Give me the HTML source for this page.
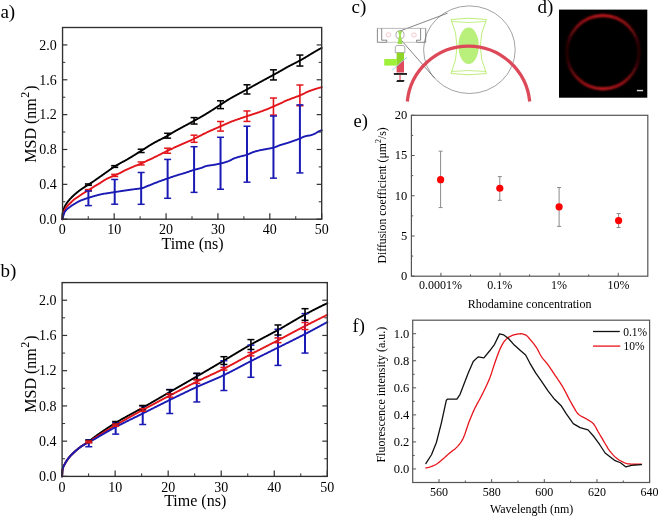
<!DOCTYPE html>
<html><head><meta charset="utf-8"><style>
html,body{margin:0;padding:0;background:#fff;}
svg{display:block;will-change:transform;}
text{font-family:"Liberation Serif", serif;}
</style></head><body>
<svg width="658" height="516" viewBox="0 0 658 516">
<rect width="658" height="516" fill="#fff"/>
<g font-family="'Liberation Serif', serif">
<polyline points="62.3,219.2 62.56,214.33 62.82,212.64 63.08,211.4 63.35,210.38 63.61,209.49 63.87,208.71 64.13,207.95 64.39,207.24 64.65,206.63 64.92,206.09 65.18,205.61 65.44,205.17 65.7,204.75 65.96,204.33 66.22,203.92 66.49,203.51 66.75,203.12 67.01,202.75 67.27,202.38 67.53,202.03 67.79,201.69 68.05,201.35 68.32,201.03 68.58,200.71 68.84,200.4 69.1,200.09 69.36,199.79 69.62,199.5 69.89,199.2 70.15,198.91 70.41,198.62 70.67,198.34 70.93,198.06 71.19,197.79 71.46,197.52 71.72,197.26 71.98,197 72.24,196.74 72.5,196.49 72.76,196.24 73.02,195.99 73.29,195.75 73.55,195.51 73.81,195.27 74.07,195.03 74.33,194.8 74.59,194.56 74.86,194.33 75.12,194.1 75.38,193.87 75.64,193.65 75.9,193.42 76.16,193.2 76.43,192.98 76.69,192.76 76.95,192.54 77.21,192.32 77.47,192.11 77.73,191.9 77.99,191.69 78.26,191.48 78.52,191.28 78.78,191.07 79.04,190.87 79.3,190.67 79.56,190.48 79.83,190.28 80.09,190.09 80.35,189.9 80.61,189.71 80.87,189.53 81.13,189.35 81.4,189.17 81.66,188.99 81.92,188.81 82.18,188.64 82.44,188.47 82.7,188.3 82.96,188.13 83.23,187.96 83.49,187.79 83.75,187.62 84.01,187.46 84.27,187.29 84.53,187.12 84.8,186.96 85.06,186.79 85.32,186.62 85.58,186.45 85.84,186.28 86.1,186.11 86.37,185.94 86.63,185.77 86.89,185.6 87.15,185.44 87.41,185.27 87.67,185.1 87.93,184.93 88.2,184.76 88.46,184.6 88.72,184.43 88.98,184.26 89.24,184.1 89.5,183.93 89.77,183.76 90.03,183.59 90.29,183.43 90.55,183.26 90.81,183.09 91.07,182.92 91.34,182.75 91.6,182.58 91.86,182.41 92.12,182.24 92.38,182.06 92.64,181.89 92.9,181.72 93.17,181.54 93.43,181.36 94,180.98 94.57,180.58 95.14,180.19 95.72,179.79 96.29,179.39 96.86,178.99 97.43,178.59 98,178.18 98.58,177.78 99.15,177.38 99.72,176.97 100.29,176.57 100.87,176.17 101.44,175.76 102.01,175.36 102.58,174.95 103.15,174.55 103.73,174.14 104.3,173.73 104.87,173.33 105.44,172.92 106.01,172.52 106.59,172.12 107.16,171.72 107.73,171.31 108.3,170.91 108.87,170.5 109.45,170.09 110.02,169.69 110.59,169.28 111.16,168.88 111.74,168.48 112.31,168.09 112.88,167.7 113.45,167.31 114.02,166.94 114.6,166.57 115.17,166.21 115.74,165.85 116.31,165.5 116.88,165.15 117.46,164.81 118.03,164.47 118.6,164.14 119.17,163.81 119.75,163.48 120.32,163.16 120.89,162.84 121.46,162.53 122.03,162.23 122.61,161.94 123.18,161.64 123.75,161.35 124.32,161.05 124.89,160.74 125.47,160.43 126.04,160.1 126.61,159.78 127.18,159.45 127.75,159.12 128.33,158.78 128.9,158.44 129.47,158.1 130.04,157.76 130.62,157.42 131.19,157.07 131.76,156.72 132.33,156.37 132.9,156.02 133.48,155.66 134.05,155.31 134.62,154.95 135.19,154.6 135.76,154.24 136.34,153.88 136.91,153.52 137.48,153.16 138.05,152.81 138.62,152.45 139.2,152.09 139.77,151.73 140.34,151.38 140.91,151.02 141.49,150.67 142.06,150.31 142.63,149.95 143.2,149.59 143.77,149.23 144.35,148.86 144.92,148.49 145.49,148.12 146.06,147.76 146.63,147.39 147.21,147.02 147.78,146.65 148.35,146.29 148.92,145.92 149.49,145.56 150.07,145.21 150.64,144.85 151.21,144.5 151.78,144.16 152.36,143.82 152.93,143.49 153.5,143.16 154.07,142.84 154.64,142.52 155.22,142.21 155.79,141.9 156.36,141.6 156.93,141.3 157.5,141.01 158.08,140.71 158.65,140.42 159.22,140.13 159.79,139.85 160.36,139.56 160.94,139.27 161.51,138.98 162.08,138.69 162.65,138.4 163.23,138.11 163.8,137.81 164.37,137.51 164.94,137.21 165.51,136.9 166.09,136.59 166.66,136.27 167.23,135.95 167.8,135.62 168.37,135.27 168.95,134.92 169.52,134.56 170.09,134.2 170.66,133.83 171.23,133.47 171.81,133.11 172.38,132.75 172.95,132.41 173.52,132.08 174.1,131.74 174.67,131.41 175.24,131.09 175.81,130.76 176.38,130.44 176.96,130.12 177.53,129.8 178.1,129.48 178.67,129.17 179.24,128.85 179.82,128.54 180.39,128.23 180.96,127.92 181.53,127.61 182.11,127.3 182.68,127 183.25,126.69 183.82,126.38 184.39,126.08 184.97,125.77 185.54,125.47 186.11,125.16 186.68,124.86 187.25,124.55 187.83,124.24 188.4,123.94 188.97,123.63 189.54,123.32 190.11,123.01 190.69,122.7 191.26,122.39 191.83,122.07 192.4,121.76 192.98,121.44 193.55,121.12 194.12,120.8 194.69,120.48 195.26,120.15 195.84,119.83 196.41,119.51 196.98,119.18 197.55,118.86 198.12,118.53 198.7,118.21 199.27,117.88 199.84,117.56 200.41,117.23 200.98,116.9 201.56,116.57 202.13,116.24 202.7,115.9 203.27,115.57 203.85,115.23 204.42,114.9 204.99,114.56 205.56,114.22 206.13,113.87 206.71,113.53 207.28,113.18 207.85,112.83 208.42,112.48 208.99,112.12 209.57,111.77 210.14,111.41 210.71,111.05 211.28,110.68 211.85,110.32 212.43,109.96 213,109.59 213.57,109.22 214.14,108.85 214.72,108.48 215.29,108.11 215.86,107.74 216.43,107.37 217,107 217.58,106.63 218.15,106.26 218.72,105.88 219.29,105.51 219.86,105.14 220.44,104.77 221.01,104.4 221.58,104.02 222.15,103.64 222.72,103.26 223.3,102.87 223.87,102.49 224.44,102.11 225.01,101.73 225.59,101.35 226.16,100.98 226.73,100.61 227.3,100.25 227.87,99.9 228.45,99.56 229.02,99.22 229.59,98.88 230.16,98.54 230.73,98.21 231.31,97.89 231.88,97.56 232.45,97.24 233.02,96.92 233.6,96.6 234.17,96.29 234.74,95.97 235.31,95.66 235.88,95.35 236.46,95.04 237.03,94.73 237.6,94.43 238.17,94.12 238.74,93.82 239.32,93.51 239.89,93.21 240.46,92.9 241.03,92.6 241.6,92.3 242.18,91.99 242.75,91.69 243.32,91.38 243.89,91.08 244.47,90.77 245.04,90.46 245.61,90.15 246.18,89.84 246.75,89.53 247.33,89.21 247.9,88.89 248.47,88.58 249.04,88.26 249.61,87.94 250.19,87.63 250.76,87.31 251.33,86.99 251.9,86.67 252.47,86.35 253.05,86.03 253.62,85.71 254.19,85.4 254.76,85.08 255.34,84.76 255.91,84.44 256.48,84.12 257.05,83.8 257.62,83.49 258.2,83.17 258.77,82.85 259.34,82.53 259.91,82.22 260.48,81.9 261.06,81.59 261.63,81.27 262.2,80.96 262.77,80.65 263.34,80.33 263.92,80.02 264.49,79.71 265.06,79.41 265.63,79.1 266.21,78.79 266.78,78.49 267.35,78.18 267.92,77.87 268.49,77.57 269.07,77.26 269.64,76.96 270.21,76.65 270.78,76.34 271.35,76.04 271.93,75.73 272.5,75.42 273.07,75.11 273.64,74.79 274.21,74.48 274.79,74.16 275.36,73.84 275.93,73.52 276.5,73.2 277.08,72.88 277.65,72.56 278.22,72.24 278.79,71.92 279.36,71.59 279.94,71.27 280.51,70.95 281.08,70.62 281.65,70.3 282.22,69.97 282.8,69.64 283.37,69.31 283.94,68.98 284.51,68.65 285.08,68.33 285.66,68 286.23,67.68 286.8,67.36 287.37,67.04 287.95,66.73 288.52,66.42 289.09,66.12 289.66,65.81 290.23,65.52 290.81,65.22 291.38,64.93 291.95,64.64 292.52,64.35 293.09,64.06 293.67,63.77 294.24,63.48 294.81,63.2 295.38,62.91 295.96,62.62 296.53,62.33 297.1,62.03 297.67,61.74 298.24,61.44 298.82,61.14 299.39,60.83 299.96,60.52 300.53,60.21 301.1,59.89 301.68,59.57 302.25,59.25 302.82,58.92 303.39,58.59 303.96,58.25 304.54,57.92 305.11,57.58 305.68,57.24 306.25,56.89 306.83,56.55 307.4,56.2 307.97,55.86 308.54,55.51 309.11,55.16 309.69,54.81 310.26,54.46 310.83,54.12 311.4,53.77 311.97,53.42 312.55,53.07 313.12,52.73 313.69,52.39 314.26,52.04 314.83,51.7 315.41,51.37 315.98,51.03 316.55,50.7 317.12,50.37 317.7,50.04 318.27,49.72 318.84,49.4 319.41,49.09 319.98,48.78 320.56,48.47 321.13,48.17 321.7,47.89" fill="none" stroke="#000" stroke-width="1.9" stroke-linejoin="round" stroke-linecap="round" />
<polyline points="62.3,219.2 62.56,218.01 62.82,216.83 63.08,215.67 63.35,214.55 63.61,213.49 63.87,212.49 64.13,211.57 64.39,210.74 64.65,210.02 64.92,209.43 65.18,208.94 65.44,208.49 65.7,208.07 65.96,207.68 66.22,207.31 66.49,206.97 66.75,206.64 67.01,206.34 67.27,206.05 67.53,205.78 67.79,205.51 68.05,205.26 68.32,205.01 68.58,204.77 68.84,204.53 69.1,204.29 69.36,204.04 69.62,203.8 69.89,203.54 70.15,203.27 70.41,203.01 70.67,202.74 70.93,202.48 71.19,202.21 71.46,201.95 71.72,201.69 71.98,201.44 72.24,201.19 72.5,200.94 72.76,200.69 73.02,200.45 73.29,200.22 73.55,199.99 73.81,199.76 74.07,199.54 74.33,199.33 74.59,199.12 74.86,198.92 75.12,198.72 75.38,198.53 75.64,198.36 75.9,198.19 76.16,198.03 76.43,197.87 76.69,197.72 76.95,197.56 77.21,197.4 77.47,197.25 77.73,197.08 77.99,196.91 78.26,196.73 78.52,196.54 78.78,196.35 79.04,196.16 79.3,195.97 79.56,195.78 79.83,195.59 80.09,195.4 80.35,195.22 80.61,195.05 80.87,194.87 81.13,194.7 81.4,194.53 81.66,194.35 81.92,194.18 82.18,194.02 82.44,193.85 82.7,193.68 82.96,193.52 83.23,193.35 83.49,193.19 83.75,193.03 84.01,192.87 84.27,192.7 84.53,192.54 84.8,192.38 85.06,192.22 85.32,192.06 85.58,191.91 85.84,191.75 86.1,191.6 86.37,191.45 86.63,191.3 86.89,191.15 87.15,191 87.41,190.85 87.67,190.69 87.93,190.54 88.2,190.38 88.46,190.23 88.72,190.07 88.98,189.9 89.24,189.74 89.5,189.57 89.77,189.39 90.03,189.22 90.29,189.04 90.55,188.86 90.81,188.69 91.07,188.51 91.34,188.33 91.6,188.15 91.86,187.98 92.12,187.8 92.38,187.63 92.64,187.46 92.9,187.29 93.17,187.12 93.43,186.96 94,186.61 94.57,186.26 95.14,185.92 95.72,185.58 96.29,185.24 96.86,184.91 97.43,184.57 98,184.24 98.58,183.9 99.15,183.56 99.72,183.22 100.29,182.87 100.87,182.51 101.44,182.14 102.01,181.77 102.58,181.4 103.15,181.02 103.73,180.65 104.3,180.29 104.87,179.93 105.44,179.59 106.01,179.26 106.59,178.94 107.16,178.65 107.73,178.37 108.3,178.1 108.87,177.84 109.45,177.59 110.02,177.34 110.59,177.1 111.16,176.86 111.74,176.63 112.31,176.39 112.88,176.16 113.45,175.92 114.02,175.67 114.6,175.43 115.17,175.2 115.74,174.96 116.31,174.73 116.88,174.49 117.46,174.25 118.03,174 118.6,173.74 119.17,173.47 119.75,173.19 120.32,172.89 120.89,172.58 121.46,172.26 122.03,171.94 122.61,171.62 123.18,171.3 123.75,170.99 124.32,170.69 124.89,170.4 125.47,170.13 126.04,169.86 126.61,169.59 127.18,169.33 127.75,169.08 128.33,168.82 128.9,168.58 129.47,168.33 130.04,168.08 130.62,167.84 131.19,167.6 131.76,167.37 132.33,167.13 132.9,166.9 133.48,166.66 134.05,166.43 134.62,166.2 135.19,165.96 135.76,165.73 136.34,165.5 136.91,165.26 137.48,165.03 138.05,164.79 138.62,164.55 139.2,164.31 139.77,164.06 140.34,163.82 140.91,163.57 141.49,163.32 142.06,163.06 142.63,162.8 143.2,162.55 143.77,162.29 144.35,162.03 144.92,161.77 145.49,161.51 146.06,161.24 146.63,160.98 147.21,160.72 147.78,160.45 148.35,160.18 148.92,159.92 149.49,159.65 150.07,159.38 150.64,159.11 151.21,158.84 151.78,158.57 152.36,158.29 152.93,158.02 153.5,157.75 154.07,157.47 154.64,157.19 155.22,156.91 155.79,156.63 156.36,156.34 156.93,156.05 157.5,155.77 158.08,155.48 158.65,155.19 159.22,154.9 159.79,154.61 160.36,154.32 160.94,154.03 161.51,153.74 162.08,153.46 162.65,153.17 163.23,152.88 163.8,152.6 164.37,152.31 164.94,152.03 165.51,151.75 166.09,151.47 166.66,151.2 167.23,150.92 167.8,150.65 168.37,150.38 168.95,150.11 169.52,149.85 170.09,149.58 170.66,149.31 171.23,149.05 171.81,148.78 172.38,148.52 172.95,148.25 173.52,147.99 174.1,147.73 174.67,147.46 175.24,147.2 175.81,146.94 176.38,146.67 176.96,146.41 177.53,146.15 178.1,145.89 178.67,145.62 179.24,145.36 179.82,145.1 180.39,144.84 180.96,144.58 181.53,144.32 182.11,144.06 182.68,143.81 183.25,143.55 183.82,143.29 184.39,143.03 184.97,142.78 185.54,142.53 186.11,142.28 186.68,142.03 187.25,141.78 187.83,141.53 188.4,141.28 188.97,141.03 189.54,140.78 190.11,140.53 190.69,140.27 191.26,140.02 191.83,139.77 192.4,139.51 192.98,139.25 193.55,138.99 194.12,138.72 194.69,138.46 195.26,138.18 195.84,137.91 196.41,137.63 196.98,137.35 197.55,137.07 198.12,136.78 198.7,136.49 199.27,136.21 199.84,135.92 200.41,135.63 200.98,135.34 201.56,135.05 202.13,134.76 202.7,134.47 203.27,134.18 203.85,133.89 204.42,133.61 204.99,133.33 205.56,133.05 206.13,132.77 206.71,132.5 207.28,132.23 207.85,131.96 208.42,131.7 208.99,131.43 209.57,131.17 210.14,130.91 210.71,130.65 211.28,130.39 211.85,130.13 212.43,129.87 213,129.62 213.57,129.36 214.14,129.11 214.72,128.85 215.29,128.6 215.86,128.35 216.43,128.09 217,127.84 217.58,127.59 218.15,127.34 218.72,127.09 219.29,126.83 219.86,126.58 220.44,126.33 221.01,126.07 221.58,125.82 222.15,125.56 222.72,125.3 223.3,125.05 223.87,124.79 224.44,124.53 225.01,124.28 225.59,124.02 226.16,123.77 226.73,123.52 227.3,123.28 227.87,123.03 228.45,122.79 229.02,122.56 229.59,122.33 230.16,122.1 230.73,121.88 231.31,121.66 231.88,121.44 232.45,121.23 233.02,121.02 233.6,120.81 234.17,120.6 234.74,120.39 235.31,120.19 235.88,119.98 236.46,119.78 237.03,119.58 237.6,119.38 238.17,119.18 238.74,118.99 239.32,118.79 239.89,118.6 240.46,118.4 241.03,118.21 241.6,118.01 242.18,117.82 242.75,117.63 243.32,117.43 243.89,117.24 244.47,117.05 245.04,116.85 245.61,116.66 246.18,116.47 246.75,116.27 247.33,116.07 247.9,115.88 248.47,115.69 249.04,115.5 249.61,115.31 250.19,115.12 250.76,114.93 251.33,114.74 251.9,114.56 252.47,114.37 253.05,114.19 253.62,114 254.19,113.82 254.76,113.63 255.34,113.44 255.91,113.25 256.48,113.06 257.05,112.87 257.62,112.68 258.2,112.49 258.77,112.29 259.34,112.09 259.91,111.89 260.48,111.69 261.06,111.48 261.63,111.27 262.2,111.06 262.77,110.84 263.34,110.63 263.92,110.41 264.49,110.19 265.06,109.97 265.63,109.75 266.21,109.53 266.78,109.3 267.35,109.07 267.92,108.84 268.49,108.61 269.07,108.38 269.64,108.15 270.21,107.91 270.78,107.68 271.35,107.44 271.93,107.2 272.5,106.96 273.07,106.72 273.64,106.48 274.21,106.23 274.79,105.98 275.36,105.73 275.93,105.48 276.5,105.22 277.08,104.95 277.65,104.69 278.22,104.42 278.79,104.15 279.36,103.88 279.94,103.61 280.51,103.34 281.08,103.07 281.65,102.8 282.22,102.53 282.8,102.26 283.37,101.99 283.94,101.73 284.51,101.46 285.08,101.2 285.66,100.95 286.23,100.7 286.8,100.45 287.37,100.21 287.95,99.97 288.52,99.74 289.09,99.51 289.66,99.28 290.23,99.06 290.81,98.84 291.38,98.63 291.95,98.41 292.52,98.2 293.09,97.99 293.67,97.78 294.24,97.56 294.81,97.35 295.38,97.14 295.96,96.93 296.53,96.71 297.1,96.49 297.67,96.27 298.24,96.05 298.82,95.82 299.39,95.59 299.96,95.36 300.53,95.12 301.1,94.87 301.68,94.61 302.25,94.35 302.82,94.08 303.39,93.81 303.96,93.53 304.54,93.26 305.11,92.98 305.68,92.71 306.25,92.44 306.83,92.18 307.4,91.92 307.97,91.67 308.54,91.42 309.11,91.19 309.69,90.97 310.26,90.75 310.83,90.54 311.4,90.34 311.97,90.13 312.55,89.94 313.12,89.74 313.69,89.55 314.26,89.36 314.83,89.17 315.41,88.99 315.98,88.81 316.55,88.64 317.12,88.46 317.7,88.29 318.27,88.12 318.84,87.96 319.41,87.8 319.98,87.64 320.56,87.48 321.13,87.33 321.7,87.19" fill="none" stroke="#e3161c" stroke-width="1.9" stroke-linejoin="round" stroke-linecap="round" />
<polyline points="62.3,219.2 62.56,218.28 62.82,217.38 63.08,216.49 63.35,215.63 63.61,214.8 63.87,214.03 64.13,213.32 64.39,212.68 64.65,212.12 64.92,211.66 65.18,211.27 65.44,210.92 65.7,210.58 65.96,210.27 66.22,209.98 66.49,209.7 66.75,209.44 67.01,209.19 67.27,208.96 67.53,208.74 67.79,208.53 68.05,208.32 68.32,208.12 68.58,207.93 68.84,207.74 69.1,207.55 69.36,207.36 69.62,207.17 69.89,206.98 70.15,206.78 70.41,206.58 70.67,206.38 70.93,206.2 71.19,206.01 71.46,205.83 71.72,205.65 71.98,205.47 72.24,205.3 72.5,205.13 72.76,204.96 73.02,204.79 73.29,204.63 73.55,204.46 73.81,204.3 74.07,204.14 74.33,203.99 74.59,203.83 74.86,203.67 75.12,203.51 75.38,203.36 75.64,203.2 75.9,203.04 76.16,202.89 76.43,202.73 76.69,202.58 76.95,202.43 77.21,202.27 77.47,202.12 77.73,201.98 77.99,201.83 78.26,201.69 78.52,201.55 78.78,201.41 79.04,201.28 79.3,201.14 79.56,201.02 79.83,200.89 80.09,200.78 80.35,200.66 80.61,200.55 80.87,200.44 81.13,200.34 81.4,200.24 81.66,200.14 81.92,200.04 82.18,199.95 82.44,199.85 82.7,199.76 82.96,199.67 83.23,199.58 83.49,199.49 83.75,199.4 84.01,199.31 84.27,199.23 84.53,199.14 84.8,199.05 85.06,198.95 85.32,198.86 85.58,198.77 85.84,198.68 86.1,198.59 86.37,198.5 86.63,198.41 86.89,198.33 87.15,198.24 87.41,198.15 87.67,198.06 87.93,197.98 88.2,197.89 88.46,197.81 88.72,197.73 88.98,197.65 89.24,197.56 89.5,197.48 89.77,197.4 90.03,197.32 90.29,197.24 90.55,197.16 90.81,197.08 91.07,197 91.34,196.92 91.6,196.84 91.86,196.76 92.12,196.69 92.38,196.61 92.64,196.53 92.9,196.46 93.17,196.38 93.43,196.31 94,196.15 94.57,195.99 95.14,195.83 95.72,195.68 96.29,195.52 96.86,195.36 97.43,195.2 98,195.05 98.58,194.89 99.15,194.74 99.72,194.6 100.29,194.45 100.87,194.32 101.44,194.19 102.01,194.07 102.58,193.95 103.15,193.85 103.73,193.75 104.3,193.67 104.87,193.59 105.44,193.52 106.01,193.45 106.59,193.37 107.16,193.28 107.73,193.2 108.3,193.11 108.87,193.02 109.45,192.93 110.02,192.84 110.59,192.74 111.16,192.65 111.74,192.56 112.31,192.46 112.88,192.37 113.45,192.28 114.02,192.19 114.6,192.1 115.17,192.01 115.74,191.92 116.31,191.84 116.88,191.75 117.46,191.66 118.03,191.58 118.6,191.49 119.17,191.41 119.75,191.32 120.32,191.23 120.89,191.15 121.46,191.06 122.03,190.98 122.61,190.9 123.18,190.81 123.75,190.73 124.32,190.64 124.89,190.56 125.47,190.47 126.04,190.39 126.61,190.31 127.18,190.22 127.75,190.14 128.33,190.06 128.9,189.97 129.47,189.89 130.04,189.81 130.62,189.72 131.19,189.64 131.76,189.56 132.33,189.48 132.9,189.4 133.48,189.32 134.05,189.24 134.62,189.16 135.19,189.09 135.76,189.03 136.34,188.96 136.91,188.9 137.48,188.83 138.05,188.77 138.62,188.7 139.2,188.63 139.77,188.55 140.34,188.46 140.91,188.37 141.49,188.26 142.06,188.14 142.63,187.98 143.2,187.81 143.77,187.61 144.35,187.4 144.92,187.17 145.49,186.94 146.06,186.7 146.63,186.45 147.21,186.21 147.78,185.97 148.35,185.73 148.92,185.51 149.49,185.29 150.07,185.07 150.64,184.84 151.21,184.61 151.78,184.38 152.36,184.14 152.93,183.91 153.5,183.68 154.07,183.44 154.64,183.21 155.22,182.98 155.79,182.75 156.36,182.53 156.93,182.3 157.5,182.08 158.08,181.86 158.65,181.65 159.22,181.44 159.79,181.23 160.36,181.02 160.94,180.81 161.51,180.6 162.08,180.4 162.65,180.2 163.23,179.99 163.8,179.79 164.37,179.59 164.94,179.39 165.51,179.19 166.09,178.99 166.66,178.79 167.23,178.59 167.8,178.39 168.37,178.2 168.95,178 169.52,177.8 170.09,177.6 170.66,177.4 171.23,177.2 171.81,177 172.38,176.8 172.95,176.61 173.52,176.42 174.1,176.22 174.67,176.03 175.24,175.85 175.81,175.66 176.38,175.48 176.96,175.3 177.53,175.13 178.1,174.95 178.67,174.78 179.24,174.62 179.82,174.45 180.39,174.29 180.96,174.12 181.53,173.96 182.11,173.79 182.68,173.62 183.25,173.46 183.82,173.28 184.39,173.11 184.97,172.93 185.54,172.75 186.11,172.57 186.68,172.38 187.25,172.18 187.83,171.98 188.4,171.78 188.97,171.58 189.54,171.38 190.11,171.18 190.69,170.98 191.26,170.78 191.83,170.59 192.4,170.4 192.98,170.21 193.55,170.03 194.12,169.86 194.69,169.69 195.26,169.54 195.84,169.39 196.41,169.24 196.98,169.1 197.55,168.96 198.12,168.82 198.7,168.67 199.27,168.52 199.84,168.36 200.41,168.18 200.98,167.99 201.56,167.78 202.13,167.56 202.7,167.33 203.27,167.1 203.85,166.88 204.42,166.66 204.99,166.45 205.56,166.26 206.13,166.08 206.71,165.94 207.28,165.81 207.85,165.71 208.42,165.61 208.99,165.52 209.57,165.44 210.14,165.36 210.71,165.29 211.28,165.22 211.85,165.14 212.43,165.07 213,164.99 213.57,164.9 214.14,164.8 214.72,164.7 215.29,164.6 215.86,164.49 216.43,164.39 217,164.28 217.58,164.16 218.15,164.05 218.72,163.93 219.29,163.8 219.86,163.67 220.44,163.54 221.01,163.41 221.58,163.26 222.15,163.12 222.72,162.97 223.3,162.81 223.87,162.65 224.44,162.48 225.01,162.31 225.59,162.13 226.16,161.94 226.73,161.75 227.3,161.55 227.87,161.35 228.45,161.13 229.02,160.89 229.59,160.63 230.16,160.35 230.73,160.07 231.31,159.78 231.88,159.49 232.45,159.2 233.02,158.92 233.6,158.65 234.17,158.41 234.74,158.18 235.31,157.97 235.88,157.78 236.46,157.6 237.03,157.42 237.6,157.25 238.17,157.08 238.74,156.92 239.32,156.76 239.89,156.6 240.46,156.45 241.03,156.29 241.6,156.14 242.18,156 242.75,155.86 243.32,155.72 243.89,155.58 244.47,155.45 245.04,155.3 245.61,155.15 246.18,155 246.75,154.83 247.33,154.64 247.9,154.43 248.47,154.2 249.04,153.95 249.61,153.69 250.19,153.42 250.76,153.15 251.33,152.89 251.9,152.63 252.47,152.39 253.05,152.17 253.62,151.97 254.19,151.79 254.76,151.61 255.34,151.44 255.91,151.28 256.48,151.12 257.05,150.97 257.62,150.83 258.2,150.69 258.77,150.55 259.34,150.42 259.91,150.29 260.48,150.16 261.06,150.04 261.63,149.93 262.2,149.82 262.77,149.72 263.34,149.61 263.92,149.51 264.49,149.41 265.06,149.31 265.63,149.21 266.21,149.11 266.78,149 267.35,148.89 267.92,148.78 268.49,148.67 269.07,148.56 269.64,148.45 270.21,148.34 270.78,148.23 271.35,148.11 271.93,147.99 272.5,147.85 273.07,147.71 273.64,147.56 274.21,147.39 274.79,147.2 275.36,146.99 275.93,146.76 276.5,146.52 277.08,146.28 277.65,146.04 278.22,145.81 278.79,145.58 279.36,145.37 279.94,145.17 280.51,144.99 281.08,144.81 281.65,144.64 282.22,144.48 282.8,144.32 283.37,144.16 283.94,143.99 284.51,143.83 285.08,143.67 285.66,143.5 286.23,143.32 286.8,143.14 287.37,142.97 287.95,142.78 288.52,142.6 289.09,142.42 289.66,142.23 290.23,142.04 290.81,141.85 291.38,141.66 291.95,141.47 292.52,141.27 293.09,141.07 293.67,140.87 294.24,140.67 294.81,140.47 295.38,140.27 295.96,140.06 296.53,139.85 297.1,139.64 297.67,139.43 298.24,139.21 298.82,139 299.39,138.77 299.96,138.54 300.53,138.29 301.1,138.02 301.68,137.75 302.25,137.48 302.82,137.21 303.39,136.96 303.96,136.71 304.54,136.49 305.11,136.3 305.68,136.14 306.25,136.01 306.83,135.9 307.4,135.8 307.97,135.72 308.54,135.63 309.11,135.54 309.69,135.44 310.26,135.33 310.83,135.19 311.4,135.03 311.97,134.85 312.55,134.64 313.12,134.42 313.69,134.18 314.26,133.92 314.83,133.66 315.41,133.38 315.98,133.05 316.55,132.68 317.12,132.31 317.7,131.95 318.27,131.61 318.84,131.31 319.41,131.07 319.98,130.85 320.56,130.65 321.13,130.47 321.7,130.32" fill="none" stroke="#1a1ab4" stroke-width="1.9" stroke-linejoin="round" stroke-linecap="round" />
<line x1="88.4" y1="185.33" x2="88.4" y2="183.94" stroke="#000" stroke-width="1.6" />
<line x1="84.9" y1="185.33" x2="91.9" y2="185.33" stroke="#000" stroke-width="1.5" />
<line x1="84.9" y1="183.94" x2="91.9" y2="183.94" stroke="#000" stroke-width="1.5" />
<line x1="114.7" y1="167.38" x2="114.7" y2="165.63" stroke="#000" stroke-width="1.6" />
<line x1="111.2" y1="167.38" x2="118.2" y2="167.38" stroke="#000" stroke-width="1.5" />
<line x1="111.2" y1="165.63" x2="118.2" y2="165.63" stroke="#000" stroke-width="1.5" />
<line x1="141.16" y1="152.53" x2="141.16" y2="149.22" stroke="#000" stroke-width="1.6" />
<line x1="137.66" y1="152.53" x2="144.66" y2="152.53" stroke="#000" stroke-width="1.5" />
<line x1="137.66" y1="149.22" x2="144.66" y2="149.22" stroke="#000" stroke-width="1.5" />
<line x1="167.62" y1="138.16" x2="167.62" y2="133.28" stroke="#000" stroke-width="1.6" />
<line x1="164.12" y1="138.16" x2="171.12" y2="138.16" stroke="#000" stroke-width="1.5" />
<line x1="164.12" y1="133.28" x2="171.12" y2="133.28" stroke="#000" stroke-width="1.5" />
<line x1="194.08" y1="124.05" x2="194.08" y2="117.6" stroke="#000" stroke-width="1.6" />
<line x1="190.58" y1="124.05" x2="197.58" y2="124.05" stroke="#000" stroke-width="1.5" />
<line x1="190.58" y1="117.6" x2="197.58" y2="117.6" stroke="#000" stroke-width="1.5" />
<line x1="220.53" y1="108.63" x2="220.53" y2="100.79" stroke="#000" stroke-width="1.6" />
<line x1="217.03" y1="108.63" x2="224.03" y2="108.63" stroke="#000" stroke-width="1.5" />
<line x1="217.03" y1="100.79" x2="224.03" y2="100.79" stroke="#000" stroke-width="1.5" />
<line x1="246.99" y1="94.01" x2="246.99" y2="84.78" stroke="#000" stroke-width="1.6" />
<line x1="243.49" y1="94.01" x2="250.49" y2="94.01" stroke="#000" stroke-width="1.5" />
<line x1="243.49" y1="84.78" x2="250.49" y2="84.78" stroke="#000" stroke-width="1.5" />
<line x1="273.45" y1="79.95" x2="273.45" y2="69.84" stroke="#000" stroke-width="1.6" />
<line x1="269.95" y1="79.95" x2="276.95" y2="79.95" stroke="#000" stroke-width="1.5" />
<line x1="269.95" y1="69.84" x2="276.95" y2="69.84" stroke="#000" stroke-width="1.5" />
<line x1="299.91" y1="66.04" x2="299.91" y2="55.06" stroke="#000" stroke-width="1.6" />
<line x1="296.41" y1="66.04" x2="303.41" y2="66.04" stroke="#000" stroke-width="1.5" />
<line x1="296.41" y1="55.06" x2="303.41" y2="55.06" stroke="#000" stroke-width="1.5" />
<line x1="88.4" y1="190.96" x2="88.4" y2="189.57" stroke="#e3161c" stroke-width="1.6" />
<line x1="84.9" y1="190.96" x2="91.9" y2="190.96" stroke="#e3161c" stroke-width="1.5" />
<line x1="84.9" y1="189.57" x2="91.9" y2="189.57" stroke="#e3161c" stroke-width="1.5" />
<line x1="114.7" y1="176.44" x2="114.7" y2="174.34" stroke="#e3161c" stroke-width="1.6" />
<line x1="111.2" y1="176.44" x2="118.2" y2="176.44" stroke="#e3161c" stroke-width="1.5" />
<line x1="111.2" y1="174.34" x2="118.2" y2="174.34" stroke="#e3161c" stroke-width="1.5" />
<line x1="141.16" y1="164.94" x2="141.16" y2="161.98" stroke="#e3161c" stroke-width="1.6" />
<line x1="137.66" y1="164.94" x2="144.66" y2="164.94" stroke="#e3161c" stroke-width="1.5" />
<line x1="137.66" y1="161.98" x2="144.66" y2="161.98" stroke="#e3161c" stroke-width="1.5" />
<line x1="167.62" y1="153.27" x2="167.62" y2="148.21" stroke="#e3161c" stroke-width="1.6" />
<line x1="164.12" y1="153.27" x2="171.12" y2="153.27" stroke="#e3161c" stroke-width="1.5" />
<line x1="164.12" y1="148.21" x2="171.12" y2="148.21" stroke="#e3161c" stroke-width="1.5" />
<line x1="194.08" y1="142.32" x2="194.08" y2="135.17" stroke="#e3161c" stroke-width="1.6" />
<line x1="190.58" y1="142.32" x2="197.58" y2="142.32" stroke="#e3161c" stroke-width="1.5" />
<line x1="190.58" y1="135.17" x2="197.58" y2="135.17" stroke="#e3161c" stroke-width="1.5" />
<line x1="220.53" y1="131.08" x2="220.53" y2="121.49" stroke="#e3161c" stroke-width="1.6" />
<line x1="217.03" y1="131.08" x2="224.03" y2="131.08" stroke="#e3161c" stroke-width="1.5" />
<line x1="217.03" y1="121.49" x2="224.03" y2="121.49" stroke="#e3161c" stroke-width="1.5" />
<line x1="246.99" y1="121.42" x2="246.99" y2="110.96" stroke="#e3161c" stroke-width="1.6" />
<line x1="243.49" y1="121.42" x2="250.49" y2="121.42" stroke="#e3161c" stroke-width="1.5" />
<line x1="243.49" y1="110.96" x2="250.49" y2="110.96" stroke="#e3161c" stroke-width="1.5" />
<line x1="273.45" y1="115.1" x2="273.45" y2="98.02" stroke="#e3161c" stroke-width="1.6" />
<line x1="269.95" y1="115.1" x2="276.95" y2="115.1" stroke="#e3161c" stroke-width="1.5" />
<line x1="269.95" y1="98.02" x2="276.95" y2="98.02" stroke="#e3161c" stroke-width="1.5" />
<line x1="299.91" y1="105.75" x2="299.91" y2="85.01" stroke="#e3161c" stroke-width="1.6" />
<line x1="296.41" y1="105.75" x2="303.41" y2="105.75" stroke="#e3161c" stroke-width="1.5" />
<line x1="296.41" y1="85.01" x2="303.41" y2="85.01" stroke="#e3161c" stroke-width="1.5" />
<line x1="88.4" y1="205.61" x2="88.4" y2="190.97" stroke="#1a1ab4" stroke-width="2.0" />
<line x1="84.9" y1="205.61" x2="91.9" y2="205.61" stroke="#1a1ab4" stroke-width="1.5" />
<line x1="84.9" y1="190.97" x2="91.9" y2="190.97" stroke="#1a1ab4" stroke-width="1.5" />
<line x1="114.7" y1="204.21" x2="114.7" y2="179.47" stroke="#1a1ab4" stroke-width="2.0" />
<line x1="111.2" y1="204.21" x2="118.2" y2="204.21" stroke="#1a1ab4" stroke-width="1.5" />
<line x1="111.2" y1="179.47" x2="118.2" y2="179.47" stroke="#1a1ab4" stroke-width="1.5" />
<line x1="141.16" y1="204.3" x2="141.16" y2="172.49" stroke="#1a1ab4" stroke-width="2.0" />
<line x1="137.66" y1="204.3" x2="144.66" y2="204.3" stroke="#1a1ab4" stroke-width="1.5" />
<line x1="137.66" y1="172.49" x2="144.66" y2="172.49" stroke="#1a1ab4" stroke-width="1.5" />
<line x1="167.62" y1="198.29" x2="167.62" y2="159.42" stroke="#1a1ab4" stroke-width="2.0" />
<line x1="164.12" y1="198.29" x2="171.12" y2="198.29" stroke="#1a1ab4" stroke-width="1.5" />
<line x1="164.12" y1="159.42" x2="171.12" y2="159.42" stroke="#1a1ab4" stroke-width="1.5" />
<line x1="194.08" y1="192.36" x2="194.08" y2="146.7" stroke="#1a1ab4" stroke-width="2.0" />
<line x1="190.58" y1="192.36" x2="197.58" y2="192.36" stroke="#1a1ab4" stroke-width="1.5" />
<line x1="190.58" y1="146.7" x2="197.58" y2="146.7" stroke="#1a1ab4" stroke-width="1.5" />
<line x1="220.53" y1="189.23" x2="220.53" y2="137.29" stroke="#1a1ab4" stroke-width="2.0" />
<line x1="217.03" y1="189.23" x2="224.03" y2="189.23" stroke="#1a1ab4" stroke-width="1.5" />
<line x1="217.03" y1="137.29" x2="224.03" y2="137.29" stroke="#1a1ab4" stroke-width="1.5" />
<line x1="246.99" y1="182.17" x2="246.99" y2="126.23" stroke="#1a1ab4" stroke-width="2.0" />
<line x1="243.49" y1="182.17" x2="250.49" y2="182.17" stroke="#1a1ab4" stroke-width="1.5" />
<line x1="243.49" y1="126.23" x2="250.49" y2="126.23" stroke="#1a1ab4" stroke-width="1.5" />
<line x1="273.45" y1="178.16" x2="273.45" y2="116.03" stroke="#1a1ab4" stroke-width="2.0" />
<line x1="269.95" y1="178.16" x2="276.95" y2="178.16" stroke="#1a1ab4" stroke-width="1.5" />
<line x1="269.95" y1="116.03" x2="276.95" y2="116.03" stroke="#1a1ab4" stroke-width="1.5" />
<line x1="299.91" y1="172.93" x2="299.91" y2="104.88" stroke="#1a1ab4" stroke-width="2.0" />
<line x1="296.41" y1="172.93" x2="303.41" y2="172.93" stroke="#1a1ab4" stroke-width="1.5" />
<line x1="296.41" y1="104.88" x2="303.41" y2="104.88" stroke="#1a1ab4" stroke-width="1.5" />
<rect x="62.55" y="27.5" width="259.15" height="191.7" fill="none" stroke="#303030" stroke-width="1.35"/>
<line x1="62.3" y1="219.2" x2="67.3" y2="219.2" stroke="#303030" stroke-width="1.2" />
<line x1="321.7" y1="219.2" x2="316.7" y2="219.2" stroke="#303030" stroke-width="1.2" />
<text x="56.8" y="224" font-size="14" text-anchor="end" fill="#000" >0.0</text>
<line x1="62.3" y1="201.77" x2="65.3" y2="201.77" stroke="#303030" stroke-width="1.0" />
<line x1="321.7" y1="201.77" x2="318.7" y2="201.77" stroke="#303030" stroke-width="1.0" />
<line x1="62.3" y1="184.35" x2="67.3" y2="184.35" stroke="#303030" stroke-width="1.2" />
<line x1="321.7" y1="184.35" x2="316.7" y2="184.35" stroke="#303030" stroke-width="1.2" />
<text x="56.8" y="189.15" font-size="14" text-anchor="end" fill="#000" >0.4</text>
<line x1="62.3" y1="166.92" x2="65.3" y2="166.92" stroke="#303030" stroke-width="1.0" />
<line x1="321.7" y1="166.92" x2="318.7" y2="166.92" stroke="#303030" stroke-width="1.0" />
<line x1="62.3" y1="149.49" x2="67.3" y2="149.49" stroke="#303030" stroke-width="1.2" />
<line x1="321.7" y1="149.49" x2="316.7" y2="149.49" stroke="#303030" stroke-width="1.2" />
<text x="56.8" y="154.29" font-size="14" text-anchor="end" fill="#000" >0.8</text>
<line x1="62.3" y1="132.06" x2="65.3" y2="132.06" stroke="#303030" stroke-width="1.0" />
<line x1="321.7" y1="132.06" x2="318.7" y2="132.06" stroke="#303030" stroke-width="1.0" />
<line x1="62.3" y1="114.64" x2="67.3" y2="114.64" stroke="#303030" stroke-width="1.2" />
<line x1="321.7" y1="114.64" x2="316.7" y2="114.64" stroke="#303030" stroke-width="1.2" />
<text x="56.8" y="119.44" font-size="14" text-anchor="end" fill="#000" >1.2</text>
<line x1="62.3" y1="97.21" x2="65.3" y2="97.21" stroke="#303030" stroke-width="1.0" />
<line x1="321.7" y1="97.21" x2="318.7" y2="97.21" stroke="#303030" stroke-width="1.0" />
<line x1="62.3" y1="79.78" x2="67.3" y2="79.78" stroke="#303030" stroke-width="1.2" />
<line x1="321.7" y1="79.78" x2="316.7" y2="79.78" stroke="#303030" stroke-width="1.2" />
<text x="56.8" y="84.58" font-size="14" text-anchor="end" fill="#000" >1.6</text>
<line x1="62.3" y1="62.35" x2="65.3" y2="62.35" stroke="#303030" stroke-width="1.0" />
<line x1="321.7" y1="62.35" x2="318.7" y2="62.35" stroke="#303030" stroke-width="1.0" />
<line x1="62.3" y1="44.93" x2="67.3" y2="44.93" stroke="#303030" stroke-width="1.2" />
<line x1="321.7" y1="44.93" x2="316.7" y2="44.93" stroke="#303030" stroke-width="1.2" />
<text x="56.8" y="49.73" font-size="14" text-anchor="end" fill="#000" >2.0</text>
<line x1="62.3" y1="27.5" x2="65.3" y2="27.5" stroke="#303030" stroke-width="1.0" />
<line x1="321.7" y1="27.5" x2="318.7" y2="27.5" stroke="#303030" stroke-width="1.0" />
<line x1="62.3" y1="219.2" x2="62.3" y2="213.2" stroke="#303030" stroke-width="1.2" />
<text x="62.3" y="233.8" font-size="14" text-anchor="middle" fill="#000" >0</text>
<line x1="88.24" y1="219.2" x2="88.24" y2="216.2" stroke="#303030" stroke-width="1.0" />
<line x1="114.18" y1="219.2" x2="114.18" y2="213.2" stroke="#303030" stroke-width="1.2" />
<text x="114.18" y="233.8" font-size="14" text-anchor="middle" fill="#000" >10</text>
<line x1="140.12" y1="219.2" x2="140.12" y2="216.2" stroke="#303030" stroke-width="1.0" />
<line x1="166.06" y1="219.2" x2="166.06" y2="213.2" stroke="#303030" stroke-width="1.2" />
<text x="166.06" y="233.8" font-size="14" text-anchor="middle" fill="#000" >20</text>
<line x1="192" y1="219.2" x2="192" y2="216.2" stroke="#303030" stroke-width="1.0" />
<line x1="217.94" y1="219.2" x2="217.94" y2="213.2" stroke="#303030" stroke-width="1.2" />
<text x="217.94" y="233.8" font-size="14" text-anchor="middle" fill="#000" >30</text>
<line x1="243.88" y1="219.2" x2="243.88" y2="216.2" stroke="#303030" stroke-width="1.0" />
<line x1="269.82" y1="219.2" x2="269.82" y2="213.2" stroke="#303030" stroke-width="1.2" />
<text x="269.82" y="233.8" font-size="14" text-anchor="middle" fill="#000" >40</text>
<line x1="295.76" y1="219.2" x2="295.76" y2="216.2" stroke="#303030" stroke-width="1.0" />
<line x1="321.7" y1="219.2" x2="321.7" y2="213.2" stroke="#303030" stroke-width="1.2" />
<text x="321.7" y="233.8" font-size="14" text-anchor="middle" fill="#000" >50</text>
<text x="192.5" y="248.9" font-size="16" text-anchor="middle" fill="#000" >Time (ns)</text>
<text transform="translate(35.5,124) rotate(-90)" font-size="16" text-anchor="middle">MSD (nm<tspan font-size="12" dy="-7" dx="0.6">2</tspan><tspan dy="7" dx="1">)</tspan></text>
<text x="0.4" y="18.2" font-size="19" text-anchor="start" fill="#000" >a)</text>
<polyline points="62.1,476.4 62.37,470.84 62.63,469.32 62.9,468.13 63.17,467.21 63.44,466.5 63.7,465.95 63.97,465.49 64.24,465.06 64.51,464.61 64.77,464.09 65.04,463.55 65.31,463.04 65.58,462.55 65.84,462.08 66.11,461.62 66.38,461.19 66.65,460.77 66.91,460.37 67.18,459.98 67.45,459.6 67.72,459.23 67.98,458.87 68.25,458.52 68.52,458.18 68.79,457.85 69.05,457.52 69.32,457.19 69.59,456.86 69.86,456.55 70.12,456.24 70.39,455.94 70.66,455.65 70.93,455.36 71.19,455.08 71.46,454.8 71.73,454.53 71.99,454.26 72.26,454 72.53,453.74 72.8,453.48 73.06,453.23 73.33,452.98 73.6,452.73 73.87,452.49 74.13,452.25 74.4,452 74.67,451.76 74.94,451.52 75.2,451.28 75.47,451.05 75.74,450.81 76.01,450.58 76.27,450.35 76.54,450.12 76.81,449.9 77.08,449.67 77.34,449.45 77.61,449.23 77.88,449.02 78.15,448.8 78.41,448.59 78.68,448.38 78.95,448.17 79.22,447.96 79.48,447.76 79.75,447.55 80.02,447.35 80.29,447.15 80.55,446.95 80.82,446.75 81.09,446.56 81.35,446.37 81.62,446.18 81.89,445.99 82.16,445.81 82.42,445.63 82.69,445.45 82.96,445.27 83.23,445.1 83.49,444.93 83.76,444.75 84.03,444.58 84.3,444.41 84.56,444.24 84.83,444.07 85.1,443.9 85.37,443.72 85.63,443.55 85.9,443.38 86.17,443.2 86.44,443.03 86.7,442.85 86.97,442.67 87.24,442.49 87.51,442.31 87.77,442.12 88.04,441.93 88.31,441.74 88.58,441.54 88.84,441.34 89.11,441.15 89.38,440.94 89.65,440.74 89.91,440.54 90.18,440.33 90.45,440.13 90.71,439.92 90.98,439.71 91.25,439.51 91.52,439.3 91.78,439.09 92.05,438.88 92.32,438.67 92.59,438.47 92.85,438.26 93.12,438.06 93.39,437.85 93.66,437.65 93.92,437.45 94.51,437.02 95.09,436.59 95.68,436.17 96.26,435.76 96.85,435.34 97.43,434.93 98.02,434.51 98.6,434.1 99.19,433.69 99.77,433.29 100.36,432.88 100.94,432.47 101.53,432.07 102.11,431.67 102.7,431.27 103.28,430.87 103.87,430.47 104.45,430.07 105.04,429.68 105.62,429.29 106.21,428.9 106.79,428.51 107.38,428.12 107.96,427.74 108.55,427.35 109.13,426.97 109.72,426.59 110.3,426.21 110.89,425.84 111.47,425.46 112.06,425.09 112.64,424.72 113.23,424.36 113.81,423.99 114.4,423.63 114.98,423.26 115.57,422.91 116.15,422.55 116.74,422.19 117.32,421.84 117.9,421.49 118.49,421.15 119.07,420.8 119.66,420.46 120.24,420.12 120.83,419.78 121.41,419.45 122,419.11 122.58,418.78 123.17,418.45 123.75,418.12 124.34,417.8 124.92,417.47 125.51,417.15 126.09,416.82 126.68,416.5 127.26,416.18 127.85,415.86 128.43,415.54 129.02,415.22 129.6,414.9 130.19,414.58 130.77,414.26 131.36,413.95 131.94,413.63 132.53,413.31 133.11,413 133.7,412.68 134.28,412.36 134.87,412.04 135.45,411.72 136.04,411.4 136.62,411.09 137.21,410.76 137.79,410.44 138.38,410.12 138.96,409.8 139.55,409.47 140.13,409.15 140.72,408.82 141.3,408.49 141.89,408.16 142.47,407.83 143.06,407.5 143.64,407.16 144.23,406.83 144.81,406.5 145.4,406.16 145.98,405.82 146.57,405.49 147.15,405.15 147.74,404.81 148.32,404.48 148.9,404.14 149.49,403.8 150.07,403.46 150.66,403.12 151.24,402.78 151.83,402.45 152.41,402.11 153,401.77 153.58,401.43 154.17,401.09 154.75,400.75 155.34,400.41 155.92,400.06 156.51,399.72 157.09,399.38 157.68,399.04 158.26,398.7 158.85,398.36 159.43,398.02 160.02,397.68 160.6,397.34 161.19,397 161.77,396.66 162.36,396.31 162.94,395.97 163.53,395.63 164.11,395.29 164.7,394.95 165.28,394.61 165.87,394.27 166.45,393.93 167.04,393.59 167.62,393.25 168.21,392.91 168.79,392.58 169.38,392.24 169.96,391.9 170.55,391.56 171.13,391.22 171.72,390.89 172.3,390.55 172.89,390.21 173.47,389.87 174.06,389.54 174.64,389.2 175.23,388.86 175.81,388.53 176.4,388.19 176.98,387.85 177.57,387.52 178.15,387.18 178.73,386.85 179.32,386.51 179.9,386.17 180.49,385.84 181.07,385.5 181.66,385.16 182.24,384.83 182.83,384.49 183.41,384.16 184,383.82 184.58,383.48 185.17,383.15 185.75,382.81 186.34,382.47 186.92,382.14 187.51,381.8 188.09,381.46 188.68,381.13 189.26,380.79 189.85,380.45 190.43,380.12 191.02,379.78 191.6,379.44 192.19,379.1 192.77,378.76 193.36,378.43 193.94,378.09 194.53,377.75 195.11,377.41 195.7,377.07 196.28,376.73 196.87,376.39 197.45,376.05 198.04,375.71 198.62,375.37 199.21,375.03 199.79,374.69 200.38,374.35 200.96,374.01 201.55,373.67 202.13,373.32 202.72,372.98 203.3,372.64 203.89,372.3 204.47,371.96 205.06,371.62 205.64,371.27 206.23,370.93 206.81,370.59 207.4,370.25 207.98,369.9 208.56,369.56 209.15,369.22 209.73,368.88 210.32,368.53 210.9,368.19 211.49,367.85 212.07,367.5 212.66,367.16 213.24,366.82 213.83,366.47 214.41,366.13 215,365.78 215.58,365.44 216.17,365.1 216.75,364.75 217.34,364.41 217.92,364.06 218.51,363.72 219.09,363.38 219.68,363.03 220.26,362.69 220.85,362.34 221.43,362 222.02,361.65 222.6,361.31 223.19,360.96 223.77,360.62 224.36,360.27 224.94,359.93 225.53,359.58 226.11,359.23 226.7,358.89 227.28,358.54 227.87,358.19 228.45,357.84 229.04,357.49 229.62,357.14 230.21,356.79 230.79,356.43 231.38,356.08 231.96,355.73 232.55,355.38 233.13,355.03 233.72,354.67 234.3,354.32 234.89,353.97 235.47,353.62 236.06,353.26 236.64,352.91 237.23,352.56 237.81,352.21 238.39,351.86 238.98,351.51 239.56,351.16 240.15,350.81 240.73,350.46 241.32,350.11 241.9,349.76 242.49,349.42 243.07,349.07 243.66,348.72 244.24,348.38 244.83,348.04 245.41,347.69 246,347.35 246.58,347.01 247.17,346.67 247.75,346.34 248.34,346 248.92,345.66 249.51,345.33 250.09,345 250.68,344.67 251.26,344.34 251.85,344.01 252.43,343.68 253.02,343.36 253.6,343.03 254.19,342.71 254.77,342.39 255.36,342.07 255.94,341.76 256.53,341.44 257.11,341.12 257.7,340.81 258.28,340.5 258.87,340.18 259.45,339.87 260.04,339.56 260.62,339.25 261.21,338.94 261.79,338.63 262.38,338.32 262.96,338.01 263.55,337.7 264.13,337.4 264.72,337.09 265.3,336.78 265.89,336.47 266.47,336.17 267.06,335.86 267.64,335.55 268.22,335.24 268.81,334.93 269.39,334.62 269.98,334.31 270.56,334 271.15,333.69 271.73,333.38 272.32,333.07 272.9,332.75 273.49,332.44 274.07,332.12 274.66,331.81 275.24,331.49 275.83,331.17 276.41,330.85 277,330.53 277.58,330.21 278.17,329.88 278.75,329.56 279.34,329.23 279.92,328.9 280.51,328.57 281.09,328.24 281.68,327.9 282.26,327.57 282.85,327.23 283.43,326.9 284.02,326.56 284.6,326.22 285.19,325.88 285.77,325.54 286.36,325.2 286.94,324.85 287.53,324.51 288.11,324.17 288.7,323.82 289.28,323.48 289.87,323.14 290.45,322.79 291.04,322.45 291.62,322.11 292.21,321.76 292.79,321.42 293.38,321.08 293.96,320.74 294.55,320.4 295.13,320.06 295.72,319.72 296.3,319.38 296.89,319.04 297.47,318.7 298.05,318.37 298.64,318.03 299.22,317.7 299.81,317.37 300.39,317.04 300.98,316.71 301.56,316.38 302.15,316.06 302.73,315.73 303.32,315.41 303.9,315.09 304.49,314.78 305.07,314.46 305.66,314.15 306.24,313.84 306.83,313.52 307.41,313.21 308,312.9 308.58,312.6 309.17,312.29 309.75,311.98 310.34,311.68 310.92,311.37 311.51,311.07 312.09,310.76 312.68,310.46 313.26,310.16 313.85,309.86 314.43,309.56 315.02,309.26 315.6,308.97 316.19,308.67 316.77,308.37 317.36,308.08 317.94,307.79 318.53,307.49 319.11,307.2 319.7,306.91 320.28,306.62 320.87,306.33 321.45,306.04 322.04,305.76 322.62,305.47 323.21,305.18 323.79,304.9 324.38,304.62 324.96,304.33 325.55,304.05 326.13,303.77 326.72,303.49 327.3,303.21" fill="none" stroke="#000" stroke-width="1.9" stroke-linejoin="round" stroke-linecap="round" />
<polyline points="62.1,476.4 62.37,470.84 62.63,469.32 62.9,468.13 63.17,467.21 63.44,466.5 63.7,465.95 63.97,465.49 64.24,465.06 64.51,464.61 64.77,464.09 65.04,463.55 65.31,463.04 65.58,462.55 65.84,462.08 66.11,461.62 66.38,461.19 66.65,460.77 66.91,460.37 67.18,459.98 67.45,459.6 67.72,459.23 67.98,458.87 68.25,458.52 68.52,458.18 68.79,457.85 69.05,457.52 69.32,457.19 69.59,456.86 69.86,456.55 70.12,456.24 70.39,455.94 70.66,455.65 70.93,455.36 71.19,455.08 71.46,454.8 71.73,454.53 71.99,454.26 72.26,454 72.53,453.74 72.8,453.48 73.06,453.23 73.33,452.98 73.6,452.73 73.87,452.49 74.13,452.25 74.4,452 74.67,451.76 74.94,451.52 75.2,451.28 75.47,451.05 75.74,450.81 76.01,450.58 76.27,450.34 76.54,450.11 76.81,449.88 77.08,449.66 77.34,449.43 77.61,449.21 77.88,448.99 78.15,448.77 78.41,448.56 78.68,448.35 78.95,448.14 79.22,447.93 79.48,447.73 79.75,447.52 80.02,447.33 80.29,447.13 80.55,446.94 80.82,446.75 81.09,446.57 81.35,446.39 81.62,446.21 81.89,446.04 82.16,445.87 82.42,445.7 82.69,445.53 82.96,445.37 83.23,445.21 83.49,445.05 83.76,444.89 84.03,444.74 84.3,444.58 84.56,444.43 84.83,444.28 85.1,444.12 85.37,443.97 85.63,443.82 85.9,443.66 86.17,443.51 86.44,443.35 86.7,443.2 86.97,443.04 87.24,442.88 87.51,442.71 87.77,442.55 88.04,442.38 88.31,442.22 88.58,442.05 88.84,441.88 89.11,441.71 89.38,441.53 89.65,441.36 89.91,441.19 90.18,441.02 90.45,440.84 90.71,440.67 90.98,440.5 91.25,440.32 91.52,440.15 91.78,439.97 92.05,439.8 92.32,439.62 92.59,439.45 92.85,439.27 93.12,439.1 93.39,438.93 93.66,438.75 93.92,438.58 94.51,438.21 95.09,437.84 95.68,437.47 96.26,437.1 96.85,436.73 97.43,436.36 98.02,435.99 98.6,435.62 99.19,435.25 99.77,434.88 100.36,434.51 100.94,434.14 101.53,433.78 102.11,433.41 102.7,433.04 103.28,432.68 103.87,432.31 104.45,431.95 105.04,431.58 105.62,431.22 106.21,430.86 106.79,430.5 107.38,430.14 107.96,429.78 108.55,429.42 109.13,429.06 109.72,428.7 110.3,428.35 110.89,427.99 111.47,427.64 112.06,427.28 112.64,426.93 113.23,426.58 113.81,426.23 114.4,425.88 114.98,425.54 115.57,425.19 116.15,424.85 116.74,424.51 117.32,424.16 117.9,423.82 118.49,423.48 119.07,423.14 119.66,422.81 120.24,422.47 120.83,422.13 121.41,421.8 122,421.46 122.58,421.13 123.17,420.8 123.75,420.47 124.34,420.14 124.92,419.81 125.51,419.48 126.09,419.15 126.68,418.82 127.26,418.49 127.85,418.16 128.43,417.84 129.02,417.51 129.6,417.19 130.19,416.86 130.77,416.54 131.36,416.21 131.94,415.89 132.53,415.57 133.11,415.25 133.7,414.92 134.28,414.6 134.87,414.28 135.45,413.96 136.04,413.64 136.62,413.32 137.21,413 137.79,412.68 138.38,412.36 138.96,412.04 139.55,411.72 140.13,411.4 140.72,411.08 141.3,410.76 141.89,410.44 142.47,410.12 143.06,409.8 143.64,409.48 144.23,409.16 144.81,408.84 145.4,408.52 145.98,408.2 146.57,407.89 147.15,407.57 147.74,407.25 148.32,406.94 148.9,406.62 149.49,406.3 150.07,405.99 150.66,405.67 151.24,405.36 151.83,405.04 152.41,404.73 153,404.42 153.58,404.1 154.17,403.79 154.75,403.48 155.34,403.16 155.92,402.85 156.51,402.54 157.09,402.23 157.68,401.92 158.26,401.61 158.85,401.29 159.43,400.98 160.02,400.67 160.6,400.36 161.19,400.05 161.77,399.74 162.36,399.43 162.94,399.13 163.53,398.82 164.11,398.51 164.7,398.2 165.28,397.89 165.87,397.58 166.45,397.28 167.04,396.97 167.62,396.66 168.21,396.35 168.79,396.05 169.38,395.74 169.96,395.43 170.55,395.13 171.13,394.82 171.72,394.51 172.3,394.21 172.89,393.9 173.47,393.59 174.06,393.29 174.64,392.98 175.23,392.68 175.81,392.37 176.4,392.06 176.98,391.76 177.57,391.45 178.15,391.15 178.73,390.84 179.32,390.54 179.9,390.23 180.49,389.93 181.07,389.62 181.66,389.32 182.24,389.02 182.83,388.71 183.41,388.41 184,388.11 184.58,387.81 185.17,387.51 185.75,387.2 186.34,386.9 186.92,386.6 187.51,386.3 188.09,386.01 188.68,385.71 189.26,385.41 189.85,385.11 190.43,384.81 191.02,384.52 191.6,384.22 192.19,383.93 192.77,383.63 193.36,383.34 193.94,383.05 194.53,382.75 195.11,382.46 195.7,382.17 196.28,381.88 196.87,381.59 197.45,381.3 198.04,381.02 198.62,380.73 199.21,380.45 199.79,380.17 200.38,379.89 200.96,379.61 201.55,379.33 202.13,379.05 202.72,378.77 203.3,378.5 203.89,378.22 204.47,377.95 205.06,377.68 205.64,377.4 206.23,377.13 206.81,376.86 207.4,376.59 207.98,376.32 208.56,376.04 209.15,375.77 209.73,375.5 210.32,375.23 210.9,374.96 211.49,374.69 212.07,374.42 212.66,374.14 213.24,373.87 213.83,373.6 214.41,373.33 215,373.05 215.58,372.78 216.17,372.5 216.75,372.22 217.34,371.95 217.92,371.67 218.51,371.39 219.09,371.11 219.68,370.82 220.26,370.54 220.85,370.25 221.43,369.97 222.02,369.68 222.6,369.39 223.19,369.1 223.77,368.8 224.36,368.51 224.94,368.21 225.53,367.91 226.11,367.61 226.7,367.31 227.28,367 227.87,366.7 228.45,366.39 229.04,366.08 229.62,365.77 230.21,365.46 230.79,365.15 231.38,364.83 231.96,364.52 232.55,364.2 233.13,363.89 233.72,363.57 234.3,363.25 234.89,362.93 235.47,362.61 236.06,362.29 236.64,361.97 237.23,361.65 237.81,361.33 238.39,361.01 238.98,360.69 239.56,360.37 240.15,360.05 240.73,359.72 241.32,359.4 241.9,359.08 242.49,358.76 243.07,358.44 243.66,358.12 244.24,357.8 244.83,357.48 245.41,357.17 246,356.85 246.58,356.53 247.17,356.22 247.75,355.9 248.34,355.59 248.92,355.28 249.51,354.97 250.09,354.66 250.68,354.35 251.26,354.04 251.85,353.73 252.43,353.43 253.02,353.12 253.6,352.82 254.19,352.51 254.77,352.21 255.36,351.91 255.94,351.6 256.53,351.3 257.11,351 257.7,350.7 258.28,350.4 258.87,350.1 259.45,349.8 260.04,349.5 260.62,349.2 261.21,348.9 261.79,348.6 262.38,348.3 262.96,348 263.55,347.7 264.13,347.4 264.72,347.11 265.3,346.81 265.89,346.51 266.47,346.21 267.06,345.91 267.64,345.61 268.22,345.32 268.81,345.02 269.39,344.72 269.98,344.42 270.56,344.12 271.15,343.82 271.73,343.52 272.32,343.22 272.9,342.92 273.49,342.62 274.07,342.32 274.66,342.02 275.24,341.72 275.83,341.41 276.41,341.11 277,340.81 277.58,340.5 278.17,340.2 278.75,339.89 279.34,339.59 279.92,339.28 280.51,338.97 281.09,338.67 281.68,338.36 282.26,338.05 282.85,337.74 283.43,337.43 284.02,337.12 284.6,336.81 285.19,336.5 285.77,336.19 286.36,335.88 286.94,335.57 287.53,335.26 288.11,334.95 288.7,334.63 289.28,334.32 289.87,334.01 290.45,333.7 291.04,333.39 291.62,333.08 292.21,332.76 292.79,332.45 293.38,332.14 293.96,331.83 294.55,331.52 295.13,331.21 295.72,330.9 296.3,330.59 296.89,330.28 297.47,329.97 298.05,329.66 298.64,329.35 299.22,329.05 299.81,328.74 300.39,328.43 300.98,328.13 301.56,327.82 302.15,327.52 302.73,327.21 303.32,326.91 303.9,326.61 304.49,326.3 305.07,326 305.66,325.7 306.24,325.4 306.83,325.1 307.41,324.8 308,324.5 308.58,324.21 309.17,323.91 309.75,323.61 310.34,323.31 310.92,323.01 311.51,322.72 312.09,322.42 312.68,322.13 313.26,321.83 313.85,321.53 314.43,321.24 315.02,320.95 315.6,320.65 316.19,320.36 316.77,320.06 317.36,319.77 317.94,319.48 318.53,319.19 319.11,318.89 319.7,318.6 320.28,318.31 320.87,318.02 321.45,317.73 322.04,317.44 322.62,317.15 323.21,316.86 323.79,316.57 324.38,316.28 324.96,315.99 325.55,315.7 326.13,315.42 326.72,315.13 327.3,314.84" fill="none" stroke="#e3161c" stroke-width="1.9" stroke-linejoin="round" stroke-linecap="round" />
<polyline points="62.1,476.4 62.37,470.84 62.63,469.32 62.9,468.13 63.17,467.21 63.44,466.5 63.7,465.95 63.97,465.49 64.24,465.06 64.51,464.61 64.77,464.09 65.04,463.55 65.31,463.04 65.58,462.55 65.84,462.08 66.11,461.62 66.38,461.19 66.65,460.77 66.91,460.37 67.18,459.98 67.45,459.6 67.72,459.23 67.98,458.87 68.25,458.52 68.52,458.18 68.79,457.85 69.05,457.52 69.32,457.19 69.59,456.86 69.86,456.55 70.12,456.24 70.39,455.94 70.66,455.65 70.93,455.36 71.19,455.08 71.46,454.8 71.73,454.53 71.99,454.26 72.26,454 72.53,453.74 72.8,453.48 73.06,453.23 73.33,452.98 73.6,452.73 73.87,452.49 74.13,452.25 74.4,452 74.67,451.76 74.94,451.52 75.2,451.28 75.47,451.05 75.74,450.81 76.01,450.57 76.27,450.34 76.54,450.11 76.81,449.88 77.08,449.65 77.34,449.42 77.61,449.2 77.88,448.98 78.15,448.76 78.41,448.54 78.68,448.33 78.95,448.12 79.22,447.92 79.48,447.71 79.75,447.51 80.02,447.32 80.29,447.12 80.55,446.94 80.82,446.75 81.09,446.57 81.35,446.39 81.62,446.22 81.89,446.05 82.16,445.88 82.42,445.72 82.69,445.55 82.96,445.39 83.23,445.24 83.49,445.08 83.76,444.93 84.03,444.77 84.3,444.62 84.56,444.47 84.83,444.32 85.1,444.18 85.37,444.03 85.63,443.88 85.9,443.74 86.17,443.59 86.44,443.45 86.7,443.3 86.97,443.16 87.24,443.01 87.51,442.87 87.77,442.72 88.04,442.57 88.31,442.43 88.58,442.28 88.84,442.14 89.11,442 89.38,441.85 89.65,441.71 89.91,441.58 90.18,441.44 90.45,441.3 90.71,441.16 90.98,441.02 91.25,440.89 91.52,440.75 91.78,440.61 92.05,440.47 92.32,440.34 92.59,440.2 92.85,440.06 93.12,439.92 93.39,439.77 93.66,439.63 93.92,439.49 94.51,439.17 95.09,438.84 95.68,438.5 96.26,438.15 96.85,437.8 97.43,437.44 98.02,437.09 98.6,436.73 99.19,436.37 99.77,436.03 100.36,435.68 100.94,435.34 101.53,435 102.11,434.66 102.7,434.32 103.28,433.99 103.87,433.65 104.45,433.31 105.04,432.98 105.62,432.64 106.21,432.31 106.79,431.97 107.38,431.64 107.96,431.31 108.55,430.98 109.13,430.65 109.72,430.32 110.3,430 110.89,429.67 111.47,429.35 112.06,429.03 112.64,428.71 113.23,428.39 113.81,428.07 114.4,427.75 114.98,427.44 115.57,427.13 116.15,426.81 116.74,426.5 117.32,426.2 117.9,425.89 118.49,425.58 119.07,425.28 119.66,424.98 120.24,424.67 120.83,424.37 121.41,424.08 122,423.78 122.58,423.48 123.17,423.18 123.75,422.89 124.34,422.59 124.92,422.3 125.51,422.01 126.09,421.72 126.68,421.43 127.26,421.14 127.85,420.85 128.43,420.56 129.02,420.27 129.6,419.98 130.19,419.69 130.77,419.4 131.36,419.11 131.94,418.83 132.53,418.54 133.11,418.25 133.7,417.96 134.28,417.68 134.87,417.39 135.45,417.1 136.04,416.82 136.62,416.53 137.21,416.24 137.79,415.95 138.38,415.66 138.96,415.37 139.55,415.08 140.13,414.79 140.72,414.5 141.3,414.21 141.89,413.92 142.47,413.63 143.06,413.34 143.64,413.04 144.23,412.75 144.81,412.45 145.4,412.16 145.98,411.86 146.57,411.57 147.15,411.27 147.74,410.98 148.32,410.68 148.9,410.39 149.49,410.09 150.07,409.8 150.66,409.5 151.24,409.21 151.83,408.91 152.41,408.62 153,408.32 153.58,408.02 154.17,407.73 154.75,407.43 155.34,407.14 155.92,406.84 156.51,406.55 157.09,406.25 157.68,405.96 158.26,405.66 158.85,405.37 159.43,405.08 160.02,404.78 160.6,404.49 161.19,404.2 161.77,403.9 162.36,403.61 162.94,403.32 163.53,403.03 164.11,402.73 164.7,402.44 165.28,402.15 165.87,401.86 166.45,401.57 167.04,401.28 167.62,400.99 168.21,400.71 168.79,400.42 169.38,400.13 169.96,399.84 170.55,399.56 171.13,399.27 171.72,398.98 172.3,398.7 172.89,398.41 173.47,398.13 174.06,397.84 174.64,397.56 175.23,397.27 175.81,396.98 176.4,396.7 176.98,396.41 177.57,396.13 178.15,395.85 178.73,395.56 179.32,395.28 179.9,394.99 180.49,394.71 181.07,394.43 181.66,394.14 182.24,393.86 182.83,393.58 183.41,393.3 184,393.02 184.58,392.74 185.17,392.46 185.75,392.18 186.34,391.9 186.92,391.62 187.51,391.34 188.09,391.06 188.68,390.79 189.26,390.51 189.85,390.23 190.43,389.96 191.02,389.68 191.6,389.41 192.19,389.13 192.77,388.86 193.36,388.59 193.94,388.32 194.53,388.04 195.11,387.77 195.7,387.5 196.28,387.24 196.87,386.97 197.45,386.7 198.04,386.43 198.62,386.17 199.21,385.91 199.79,385.65 200.38,385.39 200.96,385.13 201.55,384.87 202.13,384.62 202.72,384.37 203.3,384.11 203.89,383.86 204.47,383.61 205.06,383.36 205.64,383.11 206.23,382.86 206.81,382.61 207.4,382.36 207.98,382.11 208.56,381.86 209.15,381.61 209.73,381.36 210.32,381.11 210.9,380.86 211.49,380.61 212.07,380.36 212.66,380.11 213.24,379.86 213.83,379.61 214.41,379.36 215,379.1 215.58,378.85 216.17,378.59 216.75,378.34 217.34,378.08 217.92,377.82 218.51,377.56 219.09,377.3 219.68,377.04 220.26,376.77 220.85,376.51 221.43,376.24 222.02,375.97 222.6,375.69 223.19,375.42 223.77,375.14 224.36,374.86 224.94,374.58 225.53,374.3 226.11,374.01 226.7,373.73 227.28,373.44 227.87,373.14 228.45,372.85 229.04,372.56 229.62,372.26 230.21,371.96 230.79,371.66 231.38,371.36 231.96,371.06 232.55,370.75 233.13,370.45 233.72,370.14 234.3,369.84 234.89,369.53 235.47,369.22 236.06,368.91 236.64,368.6 237.23,368.29 237.81,367.98 238.39,367.67 238.98,367.36 239.56,367.05 240.15,366.74 240.73,366.43 241.32,366.11 241.9,365.8 242.49,365.49 243.07,365.18 243.66,364.87 244.24,364.56 244.83,364.25 245.41,363.94 246,363.64 246.58,363.33 247.17,363.02 247.75,362.72 248.34,362.42 248.92,362.11 249.51,361.81 250.09,361.51 250.68,361.21 251.26,360.92 251.85,360.62 252.43,360.32 253.02,360.03 253.6,359.73 254.19,359.44 254.77,359.14 255.36,358.85 255.94,358.56 256.53,358.26 257.11,357.97 257.7,357.68 258.28,357.39 258.87,357.1 259.45,356.8 260.04,356.51 260.62,356.22 261.21,355.93 261.79,355.64 262.38,355.35 262.96,355.06 263.55,354.77 264.13,354.48 264.72,354.19 265.3,353.9 265.89,353.61 266.47,353.32 267.06,353.03 267.64,352.74 268.22,352.45 268.81,352.16 269.39,351.87 269.98,351.58 270.56,351.29 271.15,351 271.73,350.71 272.32,350.42 272.9,350.13 273.49,349.84 274.07,349.55 274.66,349.26 275.24,348.97 275.83,348.68 276.41,348.39 277,348.1 277.58,347.81 278.17,347.51 278.75,347.22 279.34,346.93 279.92,346.64 280.51,346.35 281.09,346.06 281.68,345.77 282.26,345.48 282.85,345.18 283.43,344.89 284.02,344.6 284.6,344.31 285.19,344.02 285.77,343.74 286.36,343.45 286.94,343.16 287.53,342.87 288.11,342.58 288.7,342.29 289.28,342 289.87,341.71 290.45,341.42 291.04,341.12 291.62,340.83 292.21,340.54 292.79,340.25 293.38,339.96 293.96,339.67 294.55,339.37 295.13,339.08 295.72,338.79 296.3,338.5 296.89,338.2 297.47,337.91 298.05,337.61 298.64,337.32 299.22,337.02 299.81,336.72 300.39,336.43 300.98,336.13 301.56,335.83 302.15,335.53 302.73,335.23 303.32,334.93 303.9,334.63 304.49,334.32 305.07,334.02 305.66,333.71 306.24,333.41 306.83,333.1 307.41,332.8 308,332.49 308.58,332.18 309.17,331.88 309.75,331.57 310.34,331.26 310.92,330.95 311.51,330.64 312.09,330.33 312.68,330.02 313.26,329.71 313.85,329.39 314.43,329.08 315.02,328.77 315.6,328.45 316.19,328.14 316.77,327.82 317.36,327.51 317.94,327.19 318.53,326.87 319.11,326.56 319.7,326.24 320.28,325.92 320.87,325.6 321.45,325.28 322.04,324.96 322.62,324.64 323.21,324.32 323.79,324 324.38,323.68 324.96,323.36 325.55,323.04 326.13,322.71 326.72,322.39 327.3,322.06" fill="none" stroke="#1a1ab4" stroke-width="1.9" stroke-linejoin="round" stroke-linecap="round" />
<line x1="88.78" y1="446.71" x2="88.78" y2="439.84" stroke="#1a1ab4" stroke-width="2.0" />
<line x1="85.28" y1="446.71" x2="92.28" y2="446.71" stroke="#1a1ab4" stroke-width="1.5" />
<line x1="85.28" y1="439.84" x2="92.28" y2="439.84" stroke="#1a1ab4" stroke-width="1.5" />
<line x1="115.67" y1="434.12" x2="115.67" y2="422.4" stroke="#1a1ab4" stroke-width="2.0" />
<line x1="112.17" y1="434.12" x2="119.17" y2="434.12" stroke="#1a1ab4" stroke-width="1.5" />
<line x1="112.17" y1="422.4" x2="119.17" y2="422.4" stroke="#1a1ab4" stroke-width="1.5" />
<line x1="142.72" y1="424.51" x2="142.72" y2="405.93" stroke="#1a1ab4" stroke-width="2.0" />
<line x1="139.22" y1="424.51" x2="146.22" y2="424.51" stroke="#1a1ab4" stroke-width="1.5" />
<line x1="139.22" y1="405.93" x2="146.22" y2="405.93" stroke="#1a1ab4" stroke-width="1.5" />
<line x1="169.77" y1="413.5" x2="169.77" y2="389.54" stroke="#1a1ab4" stroke-width="2.0" />
<line x1="166.27" y1="413.5" x2="173.27" y2="413.5" stroke="#1a1ab4" stroke-width="1.5" />
<line x1="166.27" y1="389.54" x2="173.27" y2="389.54" stroke="#1a1ab4" stroke-width="1.5" />
<line x1="196.82" y1="401.96" x2="196.82" y2="373.51" stroke="#1a1ab4" stroke-width="2.0" />
<line x1="193.32" y1="401.96" x2="200.32" y2="401.96" stroke="#1a1ab4" stroke-width="1.5" />
<line x1="193.32" y1="373.51" x2="200.32" y2="373.51" stroke="#1a1ab4" stroke-width="1.5" />
<line x1="223.87" y1="390.51" x2="223.87" y2="360.74" stroke="#1a1ab4" stroke-width="2.0" />
<line x1="220.37" y1="390.51" x2="227.37" y2="390.51" stroke="#1a1ab4" stroke-width="1.5" />
<line x1="220.37" y1="360.74" x2="227.37" y2="360.74" stroke="#1a1ab4" stroke-width="1.5" />
<line x1="250.92" y1="377.3" x2="250.92" y2="345.14" stroke="#1a1ab4" stroke-width="2.0" />
<line x1="247.42" y1="377.3" x2="254.42" y2="377.3" stroke="#1a1ab4" stroke-width="1.5" />
<line x1="247.42" y1="345.14" x2="254.42" y2="345.14" stroke="#1a1ab4" stroke-width="1.5" />
<line x1="277.97" y1="365.41" x2="277.97" y2="329.29" stroke="#1a1ab4" stroke-width="2.0" />
<line x1="274.47" y1="365.41" x2="281.47" y2="365.41" stroke="#1a1ab4" stroke-width="1.5" />
<line x1="274.47" y1="329.29" x2="281.47" y2="329.29" stroke="#1a1ab4" stroke-width="1.5" />
<line x1="305.02" y1="353.07" x2="305.02" y2="313.61" stroke="#1a1ab4" stroke-width="2.0" />
<line x1="301.52" y1="353.07" x2="308.52" y2="353.07" stroke="#1a1ab4" stroke-width="1.5" />
<line x1="301.52" y1="313.61" x2="308.52" y2="313.61" stroke="#1a1ab4" stroke-width="1.5" />
<line x1="88.78" y1="442.45" x2="88.78" y2="440.33" stroke="#000" stroke-width="1.6" />
<line x1="85.28" y1="442.45" x2="92.28" y2="442.45" stroke="#000" stroke-width="1.5" />
<line x1="85.28" y1="440.33" x2="92.28" y2="440.33" stroke="#000" stroke-width="1.5" />
<line x1="115.67" y1="424.16" x2="115.67" y2="421.52" stroke="#000" stroke-width="1.6" />
<line x1="112.17" y1="424.16" x2="119.17" y2="424.16" stroke="#000" stroke-width="1.5" />
<line x1="112.17" y1="421.52" x2="119.17" y2="421.52" stroke="#000" stroke-width="1.5" />
<line x1="142.72" y1="409.89" x2="142.72" y2="405.49" stroke="#000" stroke-width="1.6" />
<line x1="139.22" y1="409.89" x2="146.22" y2="409.89" stroke="#000" stroke-width="1.5" />
<line x1="139.22" y1="405.49" x2="146.22" y2="405.49" stroke="#000" stroke-width="1.5" />
<line x1="169.77" y1="394.3" x2="169.77" y2="389.72" stroke="#000" stroke-width="1.6" />
<line x1="166.27" y1="394.3" x2="173.27" y2="394.3" stroke="#000" stroke-width="1.5" />
<line x1="166.27" y1="389.72" x2="173.27" y2="389.72" stroke="#000" stroke-width="1.5" />
<line x1="196.82" y1="379.5" x2="196.82" y2="373.33" stroke="#000" stroke-width="1.6" />
<line x1="193.32" y1="379.5" x2="200.32" y2="379.5" stroke="#000" stroke-width="1.5" />
<line x1="193.32" y1="373.33" x2="200.32" y2="373.33" stroke="#000" stroke-width="1.5" />
<line x1="223.87" y1="364.44" x2="223.87" y2="356.68" stroke="#000" stroke-width="1.6" />
<line x1="220.37" y1="364.44" x2="227.37" y2="364.44" stroke="#000" stroke-width="1.5" />
<line x1="220.37" y1="356.68" x2="227.37" y2="356.68" stroke="#000" stroke-width="1.5" />
<line x1="250.92" y1="349.46" x2="250.92" y2="339.59" stroke="#000" stroke-width="1.6" />
<line x1="247.42" y1="349.46" x2="254.42" y2="349.46" stroke="#000" stroke-width="1.5" />
<line x1="247.42" y1="339.59" x2="254.42" y2="339.59" stroke="#000" stroke-width="1.5" />
<line x1="277.97" y1="335.01" x2="277.97" y2="324.97" stroke="#000" stroke-width="1.6" />
<line x1="274.47" y1="335.01" x2="281.47" y2="335.01" stroke="#000" stroke-width="1.5" />
<line x1="274.47" y1="324.97" x2="281.47" y2="324.97" stroke="#000" stroke-width="1.5" />
<line x1="305.02" y1="320.3" x2="305.02" y2="308.67" stroke="#000" stroke-width="1.6" />
<line x1="301.52" y1="320.3" x2="308.52" y2="320.3" stroke="#000" stroke-width="1.5" />
<line x1="301.52" y1="308.67" x2="308.52" y2="308.67" stroke="#000" stroke-width="1.5" />
<line x1="88.78" y1="442.8" x2="88.78" y2="441.04" stroke="#e3161c" stroke-width="1.6" />
<line x1="85.28" y1="442.8" x2="92.28" y2="442.8" stroke="#e3161c" stroke-width="1.5" />
<line x1="85.28" y1="441.04" x2="92.28" y2="441.04" stroke="#e3161c" stroke-width="1.5" />
<line x1="115.67" y1="426.19" x2="115.67" y2="424.07" stroke="#e3161c" stroke-width="1.6" />
<line x1="112.17" y1="426.19" x2="119.17" y2="426.19" stroke="#e3161c" stroke-width="1.5" />
<line x1="112.17" y1="424.07" x2="119.17" y2="424.07" stroke="#e3161c" stroke-width="1.5" />
<line x1="142.72" y1="411.3" x2="142.72" y2="408.66" stroke="#e3161c" stroke-width="1.6" />
<line x1="139.22" y1="411.3" x2="146.22" y2="411.3" stroke="#e3161c" stroke-width="1.5" />
<line x1="139.22" y1="408.66" x2="146.22" y2="408.66" stroke="#e3161c" stroke-width="1.5" />
<line x1="169.77" y1="397.12" x2="169.77" y2="393.95" stroke="#e3161c" stroke-width="1.6" />
<line x1="166.27" y1="397.12" x2="173.27" y2="397.12" stroke="#e3161c" stroke-width="1.5" />
<line x1="166.27" y1="393.95" x2="173.27" y2="393.95" stroke="#e3161c" stroke-width="1.5" />
<line x1="196.82" y1="383.38" x2="196.82" y2="379.85" stroke="#e3161c" stroke-width="1.6" />
<line x1="193.32" y1="383.38" x2="200.32" y2="383.38" stroke="#e3161c" stroke-width="1.5" />
<line x1="193.32" y1="379.85" x2="200.32" y2="379.85" stroke="#e3161c" stroke-width="1.5" />
<line x1="223.87" y1="370.07" x2="223.87" y2="367.43" stroke="#e3161c" stroke-width="1.6" />
<line x1="220.37" y1="370.07" x2="227.37" y2="370.07" stroke="#e3161c" stroke-width="1.5" />
<line x1="220.37" y1="367.43" x2="227.37" y2="367.43" stroke="#e3161c" stroke-width="1.5" />
<line x1="250.92" y1="355.89" x2="250.92" y2="352.54" stroke="#e3161c" stroke-width="1.6" />
<line x1="247.42" y1="355.89" x2="254.42" y2="355.89" stroke="#e3161c" stroke-width="1.5" />
<line x1="247.42" y1="352.54" x2="254.42" y2="352.54" stroke="#e3161c" stroke-width="1.5" />
<line x1="277.97" y1="342.68" x2="277.97" y2="337.92" stroke="#e3161c" stroke-width="1.6" />
<line x1="274.47" y1="342.68" x2="281.47" y2="342.68" stroke="#e3161c" stroke-width="1.5" />
<line x1="274.47" y1="337.92" x2="281.47" y2="337.92" stroke="#e3161c" stroke-width="1.5" />
<line x1="305.02" y1="329.55" x2="305.02" y2="322.51" stroke="#e3161c" stroke-width="1.6" />
<line x1="301.52" y1="329.55" x2="308.52" y2="329.55" stroke="#e3161c" stroke-width="1.5" />
<line x1="301.52" y1="322.51" x2="308.52" y2="322.51" stroke="#e3161c" stroke-width="1.5" />
<rect x="62.1" y="282.6" width="265.2" height="193.8" fill="none" stroke="#303030" stroke-width="1.35"/>
<line x1="62.1" y1="476.4" x2="67.1" y2="476.4" stroke="#303030" stroke-width="1.2" />
<line x1="327.3" y1="476.4" x2="322.3" y2="476.4" stroke="#303030" stroke-width="1.2" />
<text x="56.6" y="481.2" font-size="14" text-anchor="end" fill="#000" >0.0</text>
<line x1="62.1" y1="458.78" x2="65.1" y2="458.78" stroke="#303030" stroke-width="1.0" />
<line x1="327.3" y1="458.78" x2="324.3" y2="458.78" stroke="#303030" stroke-width="1.0" />
<line x1="62.1" y1="441.16" x2="67.1" y2="441.16" stroke="#303030" stroke-width="1.2" />
<line x1="327.3" y1="441.16" x2="322.3" y2="441.16" stroke="#303030" stroke-width="1.2" />
<text x="56.6" y="445.96" font-size="14" text-anchor="end" fill="#000" >0.4</text>
<line x1="62.1" y1="423.55" x2="65.1" y2="423.55" stroke="#303030" stroke-width="1.0" />
<line x1="327.3" y1="423.55" x2="324.3" y2="423.55" stroke="#303030" stroke-width="1.0" />
<line x1="62.1" y1="405.93" x2="67.1" y2="405.93" stroke="#303030" stroke-width="1.2" />
<line x1="327.3" y1="405.93" x2="322.3" y2="405.93" stroke="#303030" stroke-width="1.2" />
<text x="56.6" y="410.73" font-size="14" text-anchor="end" fill="#000" >0.8</text>
<line x1="62.1" y1="388.31" x2="65.1" y2="388.31" stroke="#303030" stroke-width="1.0" />
<line x1="327.3" y1="388.31" x2="324.3" y2="388.31" stroke="#303030" stroke-width="1.0" />
<line x1="62.1" y1="370.69" x2="67.1" y2="370.69" stroke="#303030" stroke-width="1.2" />
<line x1="327.3" y1="370.69" x2="322.3" y2="370.69" stroke="#303030" stroke-width="1.2" />
<text x="56.6" y="375.49" font-size="14" text-anchor="end" fill="#000" >1.2</text>
<line x1="62.1" y1="353.07" x2="65.1" y2="353.07" stroke="#303030" stroke-width="1.0" />
<line x1="327.3" y1="353.07" x2="324.3" y2="353.07" stroke="#303030" stroke-width="1.0" />
<line x1="62.1" y1="335.45" x2="67.1" y2="335.45" stroke="#303030" stroke-width="1.2" />
<line x1="327.3" y1="335.45" x2="322.3" y2="335.45" stroke="#303030" stroke-width="1.2" />
<text x="56.6" y="340.25" font-size="14" text-anchor="end" fill="#000" >1.6</text>
<line x1="62.1" y1="317.84" x2="65.1" y2="317.84" stroke="#303030" stroke-width="1.0" />
<line x1="327.3" y1="317.84" x2="324.3" y2="317.84" stroke="#303030" stroke-width="1.0" />
<line x1="62.1" y1="300.22" x2="67.1" y2="300.22" stroke="#303030" stroke-width="1.2" />
<line x1="327.3" y1="300.22" x2="322.3" y2="300.22" stroke="#303030" stroke-width="1.2" />
<text x="56.6" y="305.02" font-size="14" text-anchor="end" fill="#000" >2.0</text>
<line x1="62.1" y1="282.6" x2="65.1" y2="282.6" stroke="#303030" stroke-width="1.0" />
<line x1="327.3" y1="282.6" x2="324.3" y2="282.6" stroke="#303030" stroke-width="1.0" />
<line x1="62.1" y1="476.4" x2="62.1" y2="470.4" stroke="#303030" stroke-width="1.2" />
<text x="62.1" y="491.6" font-size="14" text-anchor="middle" fill="#000" >0</text>
<line x1="88.62" y1="476.4" x2="88.62" y2="473.4" stroke="#303030" stroke-width="1.0" />
<line x1="115.14" y1="476.4" x2="115.14" y2="470.4" stroke="#303030" stroke-width="1.2" />
<text x="115.14" y="491.6" font-size="14" text-anchor="middle" fill="#000" >10</text>
<line x1="141.66" y1="476.4" x2="141.66" y2="473.4" stroke="#303030" stroke-width="1.0" />
<line x1="168.18" y1="476.4" x2="168.18" y2="470.4" stroke="#303030" stroke-width="1.2" />
<text x="168.18" y="491.6" font-size="14" text-anchor="middle" fill="#000" >20</text>
<line x1="194.7" y1="476.4" x2="194.7" y2="473.4" stroke="#303030" stroke-width="1.0" />
<line x1="221.22" y1="476.4" x2="221.22" y2="470.4" stroke="#303030" stroke-width="1.2" />
<text x="221.22" y="491.6" font-size="14" text-anchor="middle" fill="#000" >30</text>
<line x1="247.74" y1="476.4" x2="247.74" y2="473.4" stroke="#303030" stroke-width="1.0" />
<line x1="274.26" y1="476.4" x2="274.26" y2="470.4" stroke="#303030" stroke-width="1.2" />
<text x="274.26" y="491.6" font-size="14" text-anchor="middle" fill="#000" >40</text>
<line x1="300.78" y1="476.4" x2="300.78" y2="473.4" stroke="#303030" stroke-width="1.0" />
<line x1="327.3" y1="476.4" x2="327.3" y2="470.4" stroke="#303030" stroke-width="1.2" />
<text x="327.3" y="491.6" font-size="14" text-anchor="middle" fill="#000" >50</text>
<text x="195.2" y="505.9" font-size="16" text-anchor="middle" fill="#000" >Time (ns)</text>
<text transform="translate(35.5,374) rotate(-90)" font-size="16" text-anchor="middle">MSD (nm<tspan font-size="12" dy="-7" dx="0.6">2</tspan><tspan dy="7" dx="1">)</tspan></text>
<text x="0.5" y="276.8" font-size="19" text-anchor="start" fill="#000" >b)</text>
<text x="351.5" y="13.3" font-size="19" text-anchor="start" fill="#000" >c)</text>
<ellipse cx="469.4" cy="49.7" rx="45.8" ry="43.8" fill="none" stroke="#8a8a8a" stroke-width="0.8"/>
<line x1="399.5" y1="31.2" x2="447.5" y2="13.2" stroke="#666" stroke-width="0.8" />
<line x1="401.5" y1="40.5" x2="434.5" y2="78" stroke="#666" stroke-width="0.8" />
<path d="M451,19.5 Q468.5,17 486.5,19.5 Q474,46 486.5,73.5 Q468.5,76 451,73.5 Q463,46 451,19.5 Z" fill="none" stroke="#b5ec6a" stroke-width="0.9"/>
<path d="M451.5,21.5 Q468.5,23.5 486,21.5" fill="none" stroke="#b5ec6a" stroke-width="0.8"/>
<path d="M451.5,71.5 Q468.5,69.5 486,71.5" fill="none" stroke="#b5ec6a" stroke-width="0.8"/>
<ellipse cx="468.6" cy="45.8" rx="10.2" ry="18.2" fill="#b9f07c"/>
<path d="M407.3,101.5 A61.5,61.5 0 0 1 529.7,101.5" fill="none" stroke="#dc4a5a" stroke-width="3.3"/>
<line x1="377.4" y1="28.4" x2="425.7" y2="28.4" stroke="#aaa" stroke-width="0.8" />
<path d="M377.4,28.4 V42.3 H386.8 V40.2 H381.7 V28.4 M425.7,28.4 V42.3 H416.6 V40.2 H420.6 V28.4" fill="none" stroke="#6a6a6a" stroke-width="0.8"/>
<line x1="386.8" y1="42.3" x2="416.6" y2="42.3" stroke="#bbb" stroke-width="0.8" />
<ellipse cx="388.5" cy="34.8" rx="2.3" ry="2.1" fill="none" stroke="#f0a0a8" stroke-width="0.6"/>
<ellipse cx="414" cy="35" rx="2.3" ry="2.1" fill="none" stroke="#f0a0a8" stroke-width="0.6"/>
<circle cx="400" cy="34.8" r="4.1" fill="#fff" stroke="#888" stroke-width="0.7"/>
<path d="M398,31 L402,31 L400.8,35 L402.5,44 L397.5,44 L399.2,35 Z" fill="#9be04a"/>
<path d="M396.5,45.5 H403.5 L404.8,47 V52.6 H395.3 V47 Z" fill="#fff" stroke="#888" stroke-width="0.7"/>
<rect x="396.6" y="52.6" width="7.4" height="13.5" fill="#8fd42a"/>
<path d="M396.6,66 L404,59.5 V72.6 H396.6 Z" fill="#e04b5c"/>
<rect x="384.2" y="59" width="12.6" height="6.6" fill="#9ef03a"/>
<line x1="392.1" y1="70.2" x2="407" y2="57.2" stroke="#9fd0e0" stroke-width="1.0" />
<rect x="393.8" y="73" width="13.2" height="1.9" fill="#222"/>
<rect x="399.3" y="74.9" width="1.5" height="5.3" fill="#e07078"/>
<path d="M397.2,80 H404.6 L403.6,82 H396.2 Z" fill="#222"/>
<text x="537.5" y="13.2" font-size="19" text-anchor="start" fill="#000" >d)</text>
<rect x="559" y="9.6" width="88.3" height="88.1" fill="#000"/>
<defs><radialGradient id="rg" cx="50%" cy="50%" r="50%"><stop offset="0" stop-color="#000"/></radialGradient></defs>
<defs><filter id="bl" x="-10%" y="-10%" width="120%" height="120%"><feGaussianBlur stdDeviation="0.9"/></filter><linearGradient id="rgd" x1="0" y1="0" x2="1" y2="0"><stop offset="0.00" stop-color="rgb(40,0,5)"/><stop offset="0.05" stop-color="rgb(90,7,12)"/><stop offset="0.10" stop-color="rgb(123,12,17)"/><stop offset="0.15" stop-color="rgb(150,16,21)"/><stop offset="0.20" stop-color="rgb(172,19,25)"/><stop offset="0.25" stop-color="rgb(190,22,28)"/><stop offset="0.30" stop-color="rgb(205,24,30)"/><stop offset="0.35" stop-color="rgb(216,25,31)"/><stop offset="0.40" stop-color="rgb(223,27,33)"/><stop offset="0.45" stop-color="rgb(228,27,33)"/><stop offset="0.50" stop-color="rgb(230,28,34)"/><stop offset="0.55" stop-color="rgb(228,27,33)"/><stop offset="0.60" stop-color="rgb(223,27,33)"/><stop offset="0.65" stop-color="rgb(216,25,31)"/><stop offset="0.70" stop-color="rgb(205,24,30)"/><stop offset="0.75" stop-color="rgb(190,22,28)"/><stop offset="0.80" stop-color="rgb(172,19,25)"/><stop offset="0.85" stop-color="rgb(150,16,21)"/><stop offset="0.90" stop-color="rgb(123,12,17)"/><stop offset="0.95" stop-color="rgb(90,7,12)"/><stop offset="1.00" stop-color="rgb(40,0,5)"/></linearGradient></defs>
<ellipse cx="602.95" cy="52.2" rx="36.2" ry="36.7" fill="none" stroke="url(#rgd)" stroke-width="2.6" filter="url(#bl)"/>
<rect x="636.9" y="89.8" width="6.2" height="1.5" fill="#d8d8d8"/>
<text x="353.5" y="126.7" font-size="18.5" text-anchor="start" fill="#000" >e)</text>
<line x1="440.6" y1="207.58" x2="440.6" y2="151.18" stroke="#8a8a8a" stroke-width="1.0" />
<line x1="438.6" y1="207.58" x2="442.6" y2="207.58" stroke="#8a8a8a" stroke-width="1.0" />
<line x1="438.6" y1="151.18" x2="442.6" y2="151.18" stroke="#8a8a8a" stroke-width="1.0" />
<circle cx="440.6" cy="179.66" r="3.6" fill="#f00"/>
<line x1="499.8" y1="200.34" x2="499.8" y2="176.6" stroke="#8a8a8a" stroke-width="1.0" />
<line x1="497.8" y1="200.34" x2="501.8" y2="200.34" stroke="#8a8a8a" stroke-width="1.0" />
<line x1="497.8" y1="176.6" x2="501.8" y2="176.6" stroke="#8a8a8a" stroke-width="1.0" />
<circle cx="499.8" cy="188.27" r="3.6" fill="#f00"/>
<line x1="559.1" y1="226.4" x2="559.1" y2="187.54" stroke="#8a8a8a" stroke-width="1.0" />
<line x1="557.1" y1="226.4" x2="561.1" y2="226.4" stroke="#8a8a8a" stroke-width="1.0" />
<line x1="557.1" y1="187.54" x2="561.1" y2="187.54" stroke="#8a8a8a" stroke-width="1.0" />
<circle cx="559.1" cy="206.85" r="3.6" fill="#f00"/>
<line x1="618.6" y1="227.53" x2="618.6" y2="213.53" stroke="#8a8a8a" stroke-width="1.0" />
<line x1="616.6" y1="227.53" x2="620.6" y2="227.53" stroke="#8a8a8a" stroke-width="1.0" />
<line x1="616.6" y1="213.53" x2="620.6" y2="213.53" stroke="#8a8a8a" stroke-width="1.0" />
<circle cx="618.6" cy="220.53" r="3.6" fill="#f00"/>
<rect x="411.4" y="115.3" width="236.4" height="160.9" fill="none" stroke="#555" stroke-width="1.2"/>
<line x1="411.4" y1="276.2" x2="414.6" y2="276.2" stroke="#555" stroke-width="1.0" />
<text x="407.2" y="280.1" font-size="12.5" text-anchor="end" fill="#000" >0</text>
<line x1="411.4" y1="256.09" x2="413.2" y2="256.09" stroke="#555" stroke-width="1.0" />
<line x1="411.4" y1="235.97" x2="414.6" y2="235.97" stroke="#555" stroke-width="1.0" />
<text x="407.2" y="239.88" font-size="12.5" text-anchor="end" fill="#000" >5</text>
<line x1="411.4" y1="215.86" x2="413.2" y2="215.86" stroke="#555" stroke-width="1.0" />
<line x1="411.4" y1="195.75" x2="414.6" y2="195.75" stroke="#555" stroke-width="1.0" />
<text x="407.2" y="199.65" font-size="12.5" text-anchor="end" fill="#000" >10</text>
<line x1="411.4" y1="175.64" x2="413.2" y2="175.64" stroke="#555" stroke-width="1.0" />
<line x1="411.4" y1="155.53" x2="414.6" y2="155.53" stroke="#555" stroke-width="1.0" />
<text x="407.2" y="159.43" font-size="12.5" text-anchor="end" fill="#000" >15</text>
<line x1="411.4" y1="135.41" x2="413.2" y2="135.41" stroke="#555" stroke-width="1.0" />
<line x1="411.4" y1="115.3" x2="414.6" y2="115.3" stroke="#555" stroke-width="1.0" />
<text x="407.2" y="119.2" font-size="12.5" text-anchor="end" fill="#000" >20</text>
<line x1="440.95" y1="276.2" x2="440.95" y2="272.8" stroke="#555" stroke-width="1.0" />
<line x1="500.05" y1="276.2" x2="500.05" y2="272.8" stroke="#555" stroke-width="1.0" />
<line x1="470.5" y1="276.2" x2="470.5" y2="274.4" stroke="#555" stroke-width="1.0" />
<line x1="559.15" y1="276.2" x2="559.15" y2="272.8" stroke="#555" stroke-width="1.0" />
<line x1="529.6" y1="276.2" x2="529.6" y2="274.4" stroke="#555" stroke-width="1.0" />
<line x1="618.25" y1="276.2" x2="618.25" y2="272.8" stroke="#555" stroke-width="1.0" />
<line x1="588.7" y1="276.2" x2="588.7" y2="274.4" stroke="#555" stroke-width="1.0" />
<text x="440.6" y="289.2" font-size="12" text-anchor="middle" fill="#000" >0.0001%</text>
<text x="499.8" y="289.2" font-size="12" text-anchor="middle" fill="#000" >0.1%</text>
<text x="559.1" y="289.2" font-size="12" text-anchor="middle" fill="#000" >1%</text>
<text x="618.6" y="289.2" font-size="12" text-anchor="middle" fill="#000" >10%</text>
<text x="529.6" y="308.2" font-size="12" text-anchor="middle" fill="#000" >Rhodamine concentration</text>
<text transform="translate(385.9,195.4) rotate(-90)" font-size="11.8" text-anchor="middle">Diffusion coefficient (μm<tspan font-size="8" dy="-4.5">2</tspan><tspan dy="4.5">/s)</tspan></text>
<text x="352.5" y="331.6" font-size="18.5" text-anchor="start" fill="#000" >f)</text>
<polyline points="425.81,467.89 426.53,467.81 427.25,467.69 427.97,467.54 428.69,467.37 429.41,467.16 430.14,466.93 430.86,466.68 431.58,466.41 432.3,466.13 433.02,465.83 433.74,465.52 434.46,465.21 435.18,464.88 435.9,464.49 436.63,464.05 437.35,463.56 438.07,463.03 438.79,462.46 439.51,461.88 440.23,461.27 440.95,460.66 441.67,460.05 442.4,459.44 443.12,458.85 443.84,458.24 444.56,457.62 445.28,456.98 446,456.33 446.72,455.67 447.44,455.02 448.16,454.37 448.89,453.73 449.61,453.1 450.33,452.51 451.05,451.94 451.77,451.39 452.49,450.84 453.21,450.29 453.93,449.73 454.66,449.15 455.38,448.54 456.1,447.88 456.82,447.17 457.54,446.41 458.26,445.61 458.98,444.75 459.7,443.84 460.42,442.86 461.15,441.81 461.87,440.67 462.59,439.44 463.31,438.04 464.03,436.36 464.75,434.46 465.47,432.4 466.19,430.25 466.92,428.04 467.64,425.86 468.36,423.75 469.08,421.78 469.8,419.95 470.52,418.16 471.24,416.39 471.96,414.67 472.68,412.99 473.41,411.36 474.13,409.8 474.85,408.31 475.57,406.88 476.29,405.5 477.01,404.16 477.73,402.84 478.45,401.53 479.18,400.2 479.9,398.86 480.62,397.49 481.34,396.06 482.06,394.61 482.78,393.17 483.5,391.72 484.22,390.26 484.94,388.79 485.67,387.29 486.39,385.76 487.11,384.2 487.83,382.58 488.55,380.92 489.27,379.19 489.99,377.39 490.71,375.44 491.44,373.34 492.16,371.15 492.88,368.91 493.6,366.66 494.32,364.45 495.04,362.33 495.76,360.3 496.48,358.27 497.2,356.24 497.93,354.25 498.65,352.34 499.37,350.54 500.09,348.89 500.81,347.39 501.53,345.95 502.25,344.58 502.97,343.32 503.7,342.18 504.42,341.21 505.14,340.37 505.86,339.59 506.58,338.88 507.3,338.23 508.02,337.65 508.74,337.16 509.46,336.75 510.19,336.38 510.91,336.04 511.63,335.72 512.35,335.43 513.07,335.17 513.79,334.93 514.51,334.72 515.23,334.54 515.96,334.39 516.68,334.25 517.4,334.11 518.12,333.98 518.84,333.88 519.56,333.79 520.28,333.74 521,333.73 521.72,333.78 522.45,333.89 523.17,334.07 523.89,334.29 524.61,334.54 525.33,334.82 526.05,335.16 526.77,335.68 527.49,336.36 528.22,337.16 528.94,338.03 529.66,338.93 530.38,339.8 531.1,340.63 531.82,341.47 532.54,342.33 533.26,343.21 533.98,344.13 534.71,345.08 535.43,346.08 536.15,347.12 536.87,348.24 537.59,349.51 538.31,350.88 539.03,352.29 539.75,353.7 540.48,355.03 541.2,356.25 541.92,357.31 542.64,358.29 543.36,359.21 544.08,360.08 544.8,360.93 545.52,361.77 546.24,362.62 546.97,363.5 547.69,364.42 548.41,365.4 549.13,366.41 549.85,367.45 550.57,368.52 551.29,369.6 552.01,370.69 552.74,371.79 553.46,372.88 554.18,373.97 554.9,375.05 555.62,376.11 556.34,377.16 557.06,378.21 557.78,379.25 558.5,380.31 559.23,381.37 559.95,382.45 560.67,383.55 561.39,384.68 562.11,385.84 562.83,387.04 563.55,388.3 564.27,389.61 565,390.96 565.72,392.35 566.44,393.76 567.16,395.17 567.88,396.58 568.6,397.97 569.32,399.33 570.04,400.69 570.76,402.05 571.49,403.39 572.21,404.68 572.93,405.91 573.65,407.17 574.37,408.43 575.09,409.67 575.81,410.86 576.53,411.97 577.26,412.96 577.98,413.8 578.7,414.48 579.42,415.04 580.14,415.54 580.86,415.99 581.58,416.39 582.3,416.77 583.02,417.13 583.75,417.48 584.47,417.84 585.19,418.21 585.91,418.62 586.63,419.06 587.35,419.5 588.07,419.93 588.79,420.35 589.52,420.79 590.24,421.24 590.96,421.73 591.68,422.27 592.4,422.86 593.12,423.52 593.84,424.31 594.56,425.31 595.28,426.47 596.01,427.74 596.73,429.08 597.45,430.44 598.17,431.77 598.89,433.02 599.61,434.23 600.33,435.46 601.05,436.68 601.78,437.91 602.5,439.13 603.22,440.35 603.94,441.55 604.66,442.75 605.38,443.98 606.1,445.22 606.82,446.45 607.54,447.66 608.27,448.81 608.99,449.89 609.71,450.87 610.43,451.8 611.15,452.7 611.87,453.56 612.59,454.39 613.31,455.17 614.04,455.92 614.76,456.61 615.48,457.26 616.2,457.85 616.92,458.41 617.64,458.95 618.36,459.45 619.08,459.93 619.8,460.38 620.53,460.8 621.25,461.19 621.97,461.54 622.69,461.88 623.41,462.22 624.13,462.55 624.85,462.86 625.57,463.14 626.3,463.4 627.02,463.6 627.74,463.76 628.46,463.86 629.18,463.93 629.9,464 630.62,464.06 631.34,464.12 632.06,464.16 632.79,464.2 633.51,464.23 634.23,464.24 634.95,464.24 635.67,464.24 636.39,464.24 637.11,464.24 637.83,464.24 638.56,464.24 639.28,464.24 640,464.24 640.72,464.24 641.44,464.24" fill="none" stroke="#e8141c" stroke-width="1.3" stroke-linejoin="round" stroke-linecap="round" />
<polyline points="425.81,463.56 431.49,454.77 436.39,442.47 441.39,422.85 446.31,400.27 447.71,399.05 456.92,399.05 460.08,394.32 463.24,386.07 468.24,372.95 473.24,361.45 478.11,356.85 483.9,357.8 489.72,350.77 494.56,344.27 499.56,333.86 503.77,334.94 508.51,338.46 514.3,345.09 519.83,349.95 525.62,354.96 529.83,363.07 535.62,372.95 541.42,381.2 548,390.94 554.58,399.32 561.42,406.08 566.16,413.66 573.27,423.67 580.11,427.59 588.01,429.89 594.06,436.79 599.59,444.49 605.12,453.02 615.12,460.72 620.51,462.75 625.91,466.95 631.44,465.32 641.44,464.65" fill="none" stroke="#111" stroke-width="1.3" stroke-linejoin="round" stroke-linecap="round" />
<rect x="412.7" y="320.2" width="236.9" height="162.3" fill="none" stroke="#555" stroke-width="1.2"/>
<line x1="412.7" y1="468.98" x2="416.1" y2="468.98" stroke="#555" stroke-width="1.0" />
<text x="409.3" y="472.98" font-size="12.5" text-anchor="end" fill="#000" >0.0</text>
<line x1="412.7" y1="455.45" x2="414.7" y2="455.45" stroke="#555" stroke-width="1.0" />
<line x1="412.7" y1="441.92" x2="416.1" y2="441.92" stroke="#555" stroke-width="1.0" />
<text x="409.3" y="445.92" font-size="12.5" text-anchor="end" fill="#000" >0.2</text>
<line x1="412.7" y1="428.4" x2="414.7" y2="428.4" stroke="#555" stroke-width="1.0" />
<line x1="412.7" y1="414.88" x2="416.1" y2="414.88" stroke="#555" stroke-width="1.0" />
<text x="409.3" y="418.88" font-size="12.5" text-anchor="end" fill="#000" >0.4</text>
<line x1="412.7" y1="401.35" x2="414.7" y2="401.35" stroke="#555" stroke-width="1.0" />
<line x1="412.7" y1="387.82" x2="416.1" y2="387.82" stroke="#555" stroke-width="1.0" />
<text x="409.3" y="391.82" font-size="12.5" text-anchor="end" fill="#000" >0.6</text>
<line x1="412.7" y1="374.3" x2="414.7" y2="374.3" stroke="#555" stroke-width="1.0" />
<line x1="412.7" y1="360.77" x2="416.1" y2="360.77" stroke="#555" stroke-width="1.0" />
<text x="409.3" y="364.77" font-size="12.5" text-anchor="end" fill="#000" >0.8</text>
<line x1="412.7" y1="347.25" x2="414.7" y2="347.25" stroke="#555" stroke-width="1.0" />
<line x1="412.7" y1="333.72" x2="416.1" y2="333.72" stroke="#555" stroke-width="1.0" />
<text x="409.3" y="337.72" font-size="12.5" text-anchor="end" fill="#000" >1.0</text>
<line x1="439.02" y1="482.5" x2="439.02" y2="479.1" stroke="#555" stroke-width="1.0" />
<text x="439.02" y="495.7" font-size="12" text-anchor="middle" fill="#000" >560</text>
<line x1="465.34" y1="482.5" x2="465.34" y2="480.5" stroke="#555" stroke-width="1.0" />
<line x1="491.67" y1="482.5" x2="491.67" y2="479.1" stroke="#555" stroke-width="1.0" />
<text x="491.67" y="495.7" font-size="12" text-anchor="middle" fill="#000" >580</text>
<line x1="517.99" y1="482.5" x2="517.99" y2="480.5" stroke="#555" stroke-width="1.0" />
<line x1="544.31" y1="482.5" x2="544.31" y2="479.1" stroke="#555" stroke-width="1.0" />
<text x="544.31" y="495.7" font-size="12" text-anchor="middle" fill="#000" >600</text>
<line x1="570.63" y1="482.5" x2="570.63" y2="480.5" stroke="#555" stroke-width="1.0" />
<line x1="596.96" y1="482.5" x2="596.96" y2="479.1" stroke="#555" stroke-width="1.0" />
<text x="596.96" y="495.7" font-size="12" text-anchor="middle" fill="#000" >620</text>
<line x1="623.28" y1="482.5" x2="623.28" y2="480.5" stroke="#555" stroke-width="1.0" />
<line x1="649.6" y1="482.5" x2="649.6" y2="479.1" stroke="#555" stroke-width="1.0" />
<text x="649.6" y="495.7" font-size="12" text-anchor="middle" fill="#000" >640</text>
<text x="531.6" y="512.6" font-size="12" text-anchor="middle" fill="#000" >Wavelength (nm)</text>
<text transform="translate(385.3,394.6) rotate(-90)" font-size="12" text-anchor="middle">Fluorescence intensity (a.u.)</text>
<line x1="593" y1="331.5" x2="619.8" y2="331.5" stroke="#111" stroke-width="1.3" />
<line x1="593" y1="346.1" x2="620.3" y2="346.1" stroke="#e8141c" stroke-width="1.3" />
<text x="623.2" y="335.6" font-size="11.5" text-anchor="start" fill="#000" >0.1%</text>
<text x="623.6" y="350.2" font-size="11.5" text-anchor="start" fill="#000" >10%</text>
</g>
</svg>
</body></html>
